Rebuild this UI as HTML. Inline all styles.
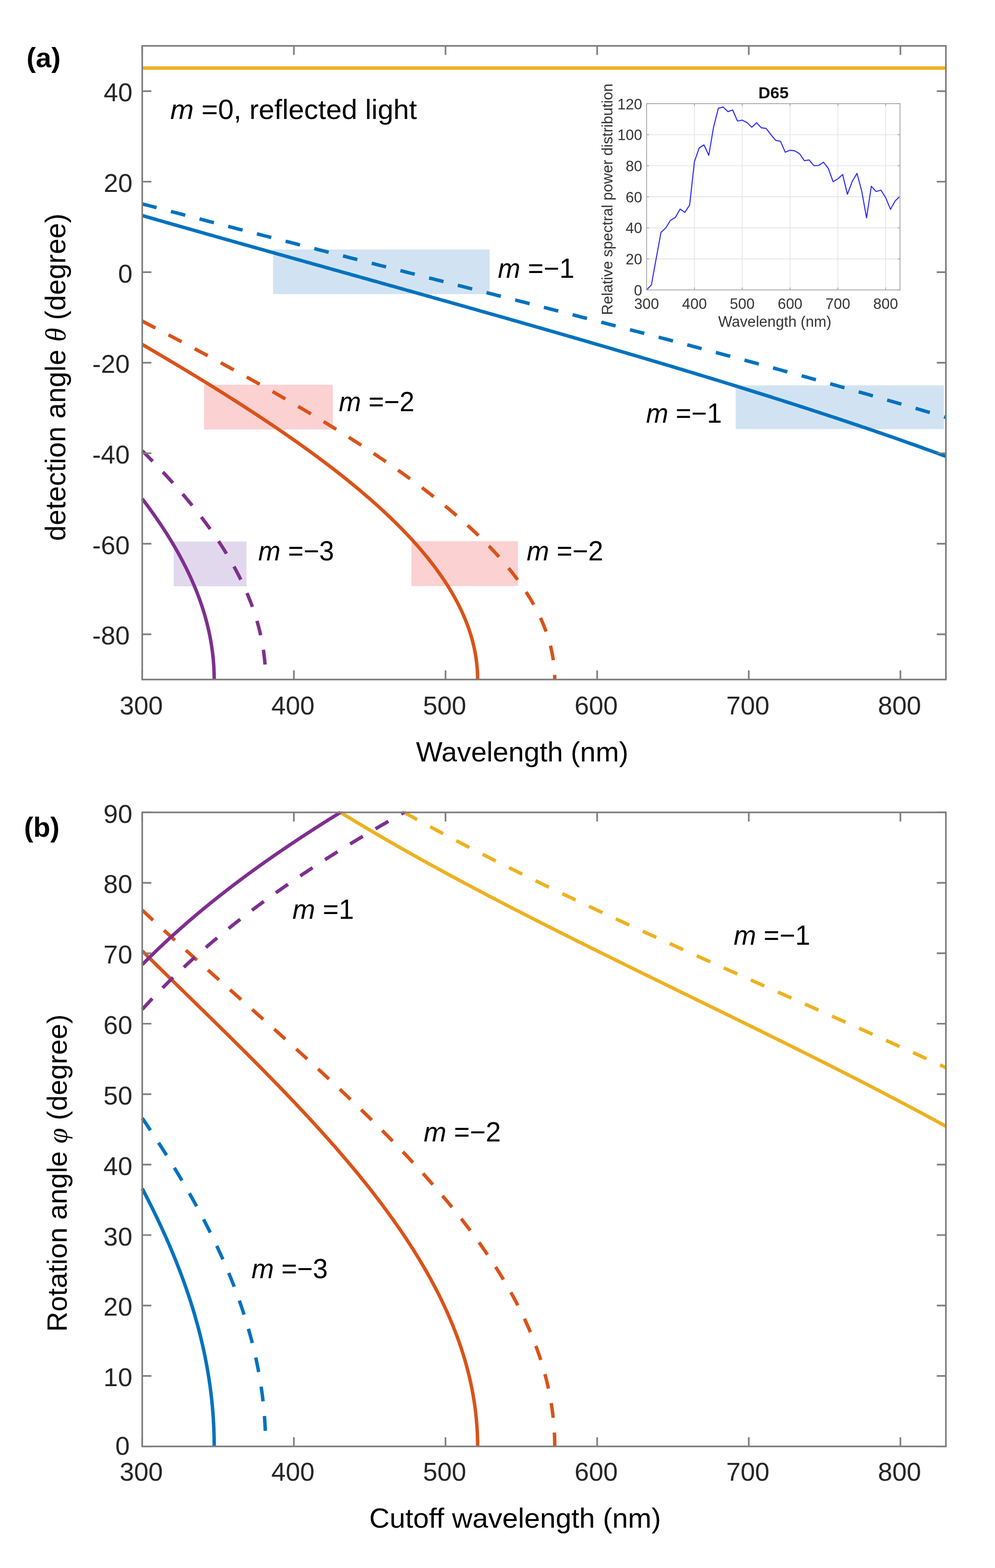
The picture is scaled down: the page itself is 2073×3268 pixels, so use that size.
<!DOCTYPE html><html><head><meta charset="utf-8"><title>Diffraction angle plots</title><style>html,body{margin:0;padding:0;background:#fff}svg{display:block}</style></head><body><svg xmlns="http://www.w3.org/2000/svg" width="2073" height="3268" viewBox="0 0 2073 3268" font-family="Liberation Sans, sans-serif"><rect width="2073" height="3268" fill="#fff"/><rect x="568.8" y="520" width="451.4" height="93" fill="#d1e3f3"/><rect x="1532.7" y="803.3" width="433.8" height="91" fill="#d1e3f3"/><rect x="425.1" y="801.8" width="268.5" height="93.4" fill="#fcd1d2"/><rect x="857.2" y="1128" width="222.0" height="93.5" fill="#fcd1d2"/><rect x="361.8" y="1128.7" width="151.8" height="93.3" fill="#e2d8ee"/><path d="M296.34 141.83H1970.72" stroke="#EDB120" stroke-width="7.2"/><path d="M296.34 449.25 L301.94 450.86 L307.54 452.47 L313.14 454.07 L318.74 455.68 L324.34 457.28 L329.94 458.89 L335.54 460.49 L341.14 462.09 L346.74 463.69 L352.34 465.29 L357.94 466.89 L363.54 468.48 L369.14 470.08 L374.74 471.67 L380.34 473.27 L385.94 474.86 L391.54 476.46 L397.14 478.05 L402.74 479.64 L408.34 481.23 L413.94 482.82 L419.54 484.41 L425.14 486 L430.74 487.59 L436.34 489.17 L441.94 490.76 L447.54 492.34 L453.14 493.93 L458.74 495.51 L464.34 497.1 L469.94 498.68 L475.54 500.26 L481.14 501.85 L486.74 503.43 L492.34 505.01 L497.94 506.59 L503.54 508.17 L509.14 509.75 L514.74 511.33 L520.34 512.91 L525.94 514.48 L531.54 516.06 L537.14 517.64 L542.74 519.21 L548.34 520.79 L553.94 522.37 L559.54 523.94 L565.14 525.52 L570.74 527.09 L576.34 528.67 L581.94 530.24 L587.54 531.81 L593.14 533.39 L598.74 534.96 L604.34 536.53 L609.94 538.11 L615.54 539.68 L621.14 541.25 L626.74 542.82 L632.34 544.39 L637.94 545.97 L643.54 547.54 L649.14 549.11 L654.74 550.68 L660.34 552.25 L665.94 553.82 L671.54 555.39 L677.14 556.96 L682.74 558.53 L688.34 560.1 L693.94 561.67 L699.54 563.24 L705.14 564.81 L710.74 566.38 L716.34 567.95 L721.94 569.52 L727.54 571.09 L733.14 572.66 L738.74 574.23 L744.33 575.8 L749.93 577.37 L755.53 578.95 L761.13 580.52 L766.73 582.09 L772.33 583.66 L777.93 585.23 L783.53 586.8 L789.13 588.37 L794.73 589.94 L800.33 591.51 L805.93 593.09 L811.53 594.66 L817.13 596.23 L822.73 597.8 L828.33 599.38 L833.93 600.95 L839.53 602.52 L845.13 604.1 L850.73 605.67 L856.33 607.24 L861.93 608.82 L867.53 610.39 L873.13 611.97 L878.73 613.54 L884.33 615.12 L889.93 616.7 L895.53 618.27 L901.13 619.85 L906.73 621.43 L912.33 623.01 L917.93 624.59 L923.53 626.17 L929.13 627.75 L934.73 629.33 L940.33 630.91 L945.93 632.49 L951.53 634.07 L957.13 635.65 L962.73 637.24 L968.33 638.82 L973.93 640.4 L979.53 641.99 L985.13 643.57 L990.73 645.16 L996.33 646.75 L1001.93 648.34 L1007.53 649.92 L1013.13 651.51 L1018.73 653.1 L1024.33 654.69 L1029.93 656.28 L1035.53 657.88 L1041.13 659.47 L1046.73 661.06 L1052.33 662.66 L1057.93 664.25 L1063.53 665.85 L1069.13 667.45 L1074.73 669.04 L1080.33 670.64 L1085.93 672.24 L1091.53 673.84 L1097.13 675.45 L1102.73 677.05 L1108.33 678.65 L1113.93 680.26 L1119.53 681.86 L1125.13 683.47 L1130.73 685.08 L1136.33 686.68 L1141.93 688.29 L1147.53 689.91 L1153.13 691.52 L1158.73 693.13 L1164.33 694.75 L1169.93 696.36 L1175.53 697.98 L1181.13 699.59 L1186.73 701.21 L1192.33 702.83 L1197.93 704.46 L1203.53 706.08 L1209.13 707.7 L1214.73 709.33 L1220.33 710.95 L1225.93 712.58 L1231.53 714.21 L1237.13 715.84 L1242.73 717.47 L1248.33 719.11 L1253.93 720.74 L1259.53 722.38 L1265.13 724.02 L1270.73 725.66 L1276.33 727.3 L1281.93 728.94 L1287.53 730.58 L1293.13 732.23 L1298.73 733.88 L1304.33 735.52 L1309.93 737.18 L1315.53 738.83 L1321.13 740.48 L1326.73 742.14 L1332.33 743.79 L1337.93 745.45 L1343.53 747.11 L1349.13 748.77 L1354.73 750.44 L1360.33 752.1 L1365.93 753.77 L1371.53 755.44 L1377.13 757.11 L1382.73 758.79 L1388.33 760.46 L1393.93 762.14 L1399.53 763.82 L1405.13 765.5 L1410.73 767.18 L1416.33 768.87 L1421.93 770.55 L1427.53 772.24 L1433.13 773.93 L1438.73 775.63 L1444.33 777.32 L1449.93 779.02 L1455.53 780.72 L1461.13 782.42 L1466.73 784.13 L1472.33 785.83 L1477.93 787.54 L1483.53 789.25 L1489.13 790.97 L1494.73 792.68 L1500.33 794.4 L1505.93 796.12 L1511.53 797.85 L1517.13 799.57 L1522.73 801.3 L1528.33 803.03 L1533.93 804.77 L1539.53 806.5 L1545.13 808.24 L1550.73 809.98 L1556.33 811.73 L1561.93 813.47 L1567.53 815.22 L1573.13 816.98 L1578.73 818.73 L1584.33 820.49 L1589.93 822.25 L1595.53 824.02 L1601.13 825.78 L1606.73 827.55 L1612.33 829.33 L1617.93 831.1 L1623.53 832.88 L1629.13 834.66 L1634.73 836.45 L1640.32 838.24 L1645.92 840.03 L1651.52 841.83 L1657.12 843.63 L1662.72 845.43 L1668.32 847.23 L1673.92 849.04 L1679.52 850.85 L1685.12 852.67 L1690.72 854.49 L1696.32 856.31 L1701.92 858.14 L1707.52 859.97 L1713.12 861.8 L1718.72 863.64 L1724.32 865.48 L1729.92 867.33 L1735.52 869.18 L1741.12 871.03 L1746.72 872.89 L1752.32 874.75 L1757.92 876.62 L1763.52 878.49 L1769.12 880.36 L1774.72 882.24 L1780.32 884.12 L1785.92 886.01 L1791.52 887.9 L1797.12 889.8 L1802.72 891.7 L1808.32 893.6 L1813.92 895.51 L1819.52 897.43 L1825.12 899.35 L1830.72 901.27 L1836.32 903.2 L1841.92 905.13 L1847.52 907.07 L1853.12 909.02 L1858.72 910.96 L1864.32 912.92 L1869.92 914.88 L1875.52 916.84 L1881.12 918.81 L1886.72 920.79 L1892.32 922.77 L1897.92 924.76 L1903.52 926.75 L1909.12 928.75 L1914.72 930.75 L1920.32 932.76 L1925.92 934.78 L1931.52 936.8 L1937.12 938.83 L1942.72 940.86 L1948.32 942.91 L1953.92 944.95 L1959.52 947.01 L1965.12 949.07 L1970.72 951.14" fill="none" stroke="#0072BD" stroke-width="7.2" stroke-linejoin="round"/><path d="M296.34 424.92 L301.94 426.41 L307.54 427.89 L313.14 429.36 L318.74 430.84 L324.34 432.32 L329.94 433.79 L335.54 435.27 L341.14 436.74 L346.74 438.22 L352.34 439.69 L357.94 441.16 L363.54 442.63 L369.14 444.1 L374.74 445.57 L380.34 447.03 L385.94 448.5 L391.54 449.97 L397.14 451.43 L402.74 452.89 L408.34 454.36 L413.94 455.82 L419.54 457.28 L425.14 458.74 L430.74 460.2 L436.34 461.66 L441.94 463.12 L447.54 464.57 L453.14 466.03 L458.74 467.48 L464.34 468.94 L469.94 470.39 L475.54 471.85 L481.14 473.3 L486.74 474.75 L492.34 476.2 L497.94 477.65 L503.54 479.11 L509.14 480.55 L514.74 482 L520.34 483.45 L525.94 484.9 L531.54 486.35 L537.14 487.79 L542.74 489.24 L548.34 490.68 L553.94 492.13 L559.54 493.57 L565.14 495.02 L570.74 496.46 L576.34 497.9 L581.94 499.34 L587.54 500.79 L593.14 502.23 L598.74 503.67 L604.34 505.11 L609.94 506.55 L615.54 507.99 L621.14 509.43 L626.74 510.87 L632.34 512.3 L637.94 513.74 L643.54 515.18 L649.14 516.62 L654.74 518.05 L660.34 519.49 L665.94 520.93 L671.54 522.36 L677.14 523.8 L682.74 525.23 L688.34 526.67 L693.94 528.1 L699.54 529.54 L705.14 530.97 L710.74 532.4 L716.34 533.84 L721.94 535.27 L727.54 536.7 L733.14 538.14 L738.74 539.57 L744.33 541 L749.93 542.43 L755.53 543.86 L761.13 545.3 L766.73 546.73 L772.33 548.16 L777.93 549.59 L783.53 551.02 L789.13 552.45 L794.73 553.88 L800.33 555.32 L805.93 556.75 L811.53 558.18 L817.13 559.61 L822.73 561.04 L828.33 562.47 L833.93 563.9 L839.53 565.33 L845.13 566.76 L850.73 568.19 L856.33 569.62 L861.93 571.05 L867.53 572.48 L873.13 573.91 L878.73 575.34 L884.33 576.78 L889.93 578.21 L895.53 579.64 L901.13 581.07 L906.73 582.5 L912.33 583.93 L917.93 585.36 L923.53 586.79 L929.13 588.22 L934.73 589.66 L940.33 591.09 L945.93 592.52 L951.53 593.95 L957.13 595.39 L962.73 596.82 L968.33 598.25 L973.93 599.68 L979.53 601.12 L985.13 602.55 L990.73 603.98 L996.33 605.42 L1001.93 606.85 L1007.53 608.29 L1013.13 609.72 L1018.73 611.16 L1024.33 612.59 L1029.93 614.03 L1035.53 615.46 L1041.13 616.9 L1046.73 618.34 L1052.33 619.77 L1057.93 621.21 L1063.53 622.65 L1069.13 624.09 L1074.73 625.53 L1080.33 626.97 L1085.93 628.41 L1091.53 629.85 L1097.13 631.29 L1102.73 632.73 L1108.33 634.17 L1113.93 635.61 L1119.53 637.05 L1125.13 638.5 L1130.73 639.94 L1136.33 641.38 L1141.93 642.83 L1147.53 644.27 L1153.13 645.72 L1158.73 647.16 L1164.33 648.61 L1169.93 650.06 L1175.53 651.51 L1181.13 652.95 L1186.73 654.4 L1192.33 655.85 L1197.93 657.3 L1203.53 658.75 L1209.13 660.21 L1214.73 661.66 L1220.33 663.11 L1225.93 664.56 L1231.53 666.02 L1237.13 667.47 L1242.73 668.93 L1248.33 670.39 L1253.93 671.84 L1259.53 673.3 L1265.13 674.76 L1270.73 676.22 L1276.33 677.68 L1281.93 679.14 L1287.53 680.61 L1293.13 682.07 L1298.73 683.53 L1304.33 685 L1309.93 686.46 L1315.53 687.93 L1321.13 689.4 L1326.73 690.86 L1332.33 692.33 L1337.93 693.8 L1343.53 695.28 L1349.13 696.75 L1354.73 698.22 L1360.33 699.69 L1365.93 701.17 L1371.53 702.65 L1377.13 704.12 L1382.73 705.6 L1388.33 707.08 L1393.93 708.56 L1399.53 710.04 L1405.13 711.52 L1410.73 713.01 L1416.33 714.49 L1421.93 715.98 L1427.53 717.47 L1433.13 718.95 L1438.73 720.44 L1444.33 721.93 L1449.93 723.43 L1455.53 724.92 L1461.13 726.41 L1466.73 727.91 L1472.33 729.41 L1477.93 730.9 L1483.53 732.4 L1489.13 733.9 L1494.73 735.41 L1500.33 736.91 L1505.93 738.41 L1511.53 739.92 L1517.13 741.43 L1522.73 742.94 L1528.33 744.45 L1533.93 745.96 L1539.53 747.47 L1545.13 748.99 L1550.73 750.5 L1556.33 752.02 L1561.93 753.54 L1567.53 755.06 L1573.13 756.58 L1578.73 758.11 L1584.33 759.63 L1589.93 761.16 L1595.53 762.69 L1601.13 764.22 L1606.73 765.75 L1612.33 767.28 L1617.93 768.82 L1623.53 770.36 L1629.13 771.89 L1634.73 773.43 L1640.32 774.98 L1645.92 776.52 L1651.52 778.07 L1657.12 779.61 L1662.72 781.16 L1668.32 782.72 L1673.92 784.27 L1679.52 785.82 L1685.12 787.38 L1690.72 788.94 L1696.32 790.5 L1701.92 792.06 L1707.52 793.63 L1713.12 795.19 L1718.72 796.76 L1724.32 798.33 L1729.92 799.91 L1735.52 801.48 L1741.12 803.06 L1746.72 804.64 L1752.32 806.22 L1757.92 807.81 L1763.52 809.39 L1769.12 810.98 L1774.72 812.57 L1780.32 814.16 L1785.92 815.76 L1791.52 817.36 L1797.12 818.96 L1802.72 820.56 L1808.32 822.16 L1813.92 823.77 L1819.52 825.38 L1825.12 826.99 L1830.72 828.61 L1836.32 830.22 L1841.92 831.84 L1847.52 833.46 L1853.12 835.09 L1858.72 836.72 L1864.32 838.35 L1869.92 839.98 L1875.52 841.62 L1881.12 843.25 L1886.72 844.89 L1892.32 846.54 L1897.92 848.19 L1903.52 849.84 L1909.12 851.49 L1914.72 853.14 L1920.32 854.8 L1925.92 856.46 L1931.52 858.13 L1937.12 859.8 L1942.72 861.47 L1948.32 863.14 L1953.92 864.82 L1959.52 866.5 L1965.12 868.18 L1970.72 869.87" fill="none" stroke="#0072BD" stroke-width="7.2" stroke-linejoin="round" stroke-dasharray="30.9 30.83"/><path d="M296.34 717.88 L297.51 718.56 L298.67 719.24 L299.84 719.92 L301.01 720.6 L302.17 721.28 L303.34 721.96 L304.51 722.64 L305.67 723.33 L306.84 724.01 L308.01 724.69 L309.17 725.37 L310.34 726.06 L311.5 726.74 L312.67 727.43 L313.84 728.11 L315 728.79 L316.17 729.48 L317.34 730.16 L318.5 730.85 L319.67 731.53 L320.84 732.22 L322 732.91 L323.17 733.59 L324.34 734.28 L325.5 734.97 L326.67 735.65 L327.84 736.34 L329 737.03 L330.17 737.72 L331.34 738.4 L332.5 739.09 L333.67 739.78 L334.84 740.47 L336 741.16 L337.17 741.85 L338.33 742.54 L339.5 743.23 L340.67 743.92 L341.83 744.61 L343 745.3 L344.17 745.99 L345.33 746.69 L346.5 747.38 L347.67 748.07 L348.83 748.76 L350 749.46 L351.17 750.15 L352.33 750.84 L353.5 751.54 L354.67 752.23 L355.83 752.93 L357 753.62 L358.17 754.32 L359.33 755.01 L360.5 755.71 L361.66 756.4 L362.83 757.1 L364 757.8 L365.16 758.49 L366.33 759.19 L367.5 759.89 L368.66 760.59 L369.83 761.29 L371 761.98 L372.16 762.68 L373.33 763.38 L374.5 764.08 L375.66 764.78 L376.83 765.48 L378 766.18 L379.16 766.89 L380.33 767.59 L381.5 768.29 L382.66 768.99 L383.83 769.69 L385 770.4 L386.16 771.1 L387.33 771.81 L388.49 772.51 L389.66 773.21 L390.83 773.92 L391.99 774.62 L393.16 775.33 L394.33 776.04 L395.49 776.74 L396.66 777.45 L397.83 778.16 L398.99 778.86 L400.16 779.57 L401.33 780.28 L402.49 780.99 L403.66 781.7 L404.83 782.41 L405.99 783.12 L407.16 783.83 L408.33 784.54 L409.49 785.25 L410.66 785.96 L411.83 786.67 L412.99 787.38 L414.16 788.1 L415.32 788.81 L416.49 789.52 L417.66 790.24 L418.82 790.95 L419.99 791.67 L421.16 792.38 L422.32 793.1 L423.49 793.81 L424.66 794.53 L425.82 795.25 L426.99 795.96 L428.16 796.68 L429.32 797.4 L430.49 798.12 L431.66 798.84 L432.82 799.55 L433.99 800.27 L435.16 801 L436.32 801.72 L437.49 802.44 L438.66 803.16 L439.82 803.88 L440.99 804.6 L442.15 805.33 L443.32 806.05 L444.49 806.77 L445.65 807.5 L446.82 808.22 L447.99 808.95 L449.15 809.67 L450.32 810.4 L451.49 811.13 L452.65 811.85 L453.82 812.58 L454.99 813.31 L456.15 814.04 L457.32 814.77 L458.49 815.5 L459.65 816.23 L460.82 816.96 L461.99 817.69 L463.15 818.42 L464.32 819.15 L465.48 819.88 L466.65 820.62 L467.82 821.35 L468.98 822.08 L470.15 822.82 L471.32 823.55 L472.48 824.29 L473.65 825.03 L474.82 825.76 L475.98 826.5 L477.15 827.24 L478.32 827.97 L479.48 828.71 L480.65 829.45 L481.82 830.19 L482.98 830.93 L484.15 831.67 L485.32 832.41 L486.48 833.16 L487.65 833.9 L488.82 834.64 L489.98 835.39 L491.15 836.13 L492.31 836.87 L493.48 837.62 L494.65 838.37 L495.81 839.11 L496.98 839.86 L498.15 840.61 L499.31 841.35 L500.48 842.1 L501.65 842.85 L502.81 843.6 L503.98 844.35 L505.15 845.1 L506.31 845.85 L507.48 846.61 L508.65 847.36 L509.81 848.11 L510.98 848.87 L512.15 849.62 L513.31 850.38 L514.48 851.13 L515.65 851.89 L516.81 852.65 L517.98 853.4 L519.14 854.16 L520.31 854.92 L521.48 855.68 L522.64 856.44 L523.81 857.2 L524.98 857.96 L526.14 858.72 L527.31 859.49 L528.48 860.25 L529.64 861.01 L530.81 861.78 L531.98 862.54 L533.14 863.31 L534.31 864.08 L535.48 864.84 L536.64 865.61 L537.81 866.38 L538.98 867.15 L540.14 867.92 L541.31 868.69 L542.48 869.46 L543.64 870.23 L544.81 871.01 L545.97 871.78 L547.14 872.55 L548.31 873.33 L549.47 874.1 L550.64 874.88 L551.81 875.66 L552.97 876.43 L554.14 877.21 L555.31 877.99 L556.47 878.77 L557.64 879.55 L558.81 880.33 L559.97 881.11 L561.14 881.9 L562.31 882.68 L563.47 883.47 L564.64 884.25 L565.81 885.04 L566.97 885.82 L568.14 886.61 L569.3 887.4 L570.47 888.19 L571.64 888.98 L572.8 889.77 L573.97 890.56 L575.14 891.35 L576.3 892.14 L577.47 892.94 L578.64 893.73 L579.8 894.53 L580.97 895.32 L582.14 896.12 L583.3 896.92 L584.47 897.71 L585.64 898.51 L586.8 899.31 L587.97 900.11 L589.14 900.92 L590.3 901.72 L591.47 902.52 L592.64 903.33 L593.8 904.13 L594.97 904.94 L596.13 905.75 L597.3 906.55 L598.47 907.36 L599.63 908.17 L600.8 908.98 L601.97 909.79 L603.13 910.61 L604.3 911.42 L605.47 912.23 L606.63 913.05 L607.8 913.86 L608.97 914.68 L610.13 915.5 L611.3 916.32 L612.47 917.14 L613.63 917.96 L614.8 918.78 L615.97 919.6 L617.13 920.42 L618.3 921.25 L619.47 922.07 L620.63 922.9 L621.8 923.73 L622.96 924.55 L624.13 925.38 L625.3 926.21 L626.46 927.05 L627.63 927.88 L628.8 928.71 L629.96 929.55 L631.13 930.38 L632.3 931.22 L633.46 932.05 L634.63 932.89 L635.8 933.73 L636.96 934.57 L638.13 935.41 L639.3 936.26 L640.46 937.1 L641.63 937.94 L642.8 938.79 L643.96 939.64 L645.13 940.49 L646.3 941.33 L647.46 942.18 L648.63 943.04 L649.79 943.89 L650.96 944.74 L652.13 945.6 L653.29 946.45 L654.46 947.31 L655.63 948.17 L656.79 949.03 L657.96 949.89 L659.13 950.75 L660.29 951.61 L661.46 952.48 L662.63 953.34 L663.79 954.21 L664.96 955.07 L666.13 955.94 L667.29 956.81 L668.46 957.68 L669.63 958.56 L670.79 959.43 L671.96 960.31 L673.12 961.18 L674.29 962.06 L675.46 962.94 L676.62 963.82 L677.79 964.7 L678.96 965.58 L680.12 966.47 L681.29 967.35 L682.46 968.24 L683.62 969.13 L684.79 970.02 L685.96 970.91 L687.12 971.8 L688.29 972.69 L689.46 973.59 L690.62 974.48 L691.79 975.38 L692.96 976.28 L694.12 977.18 L695.29 978.08 L696.46 978.99 L697.62 979.89 L698.79 980.8 L699.95 981.7 L701.12 982.61 L702.29 983.52 L703.45 984.44 L704.62 985.35 L705.79 986.26 L706.95 987.18 L708.12 988.1 L709.29 989.02 L710.45 989.94 L711.62 990.86 L712.79 991.79 L713.95 992.71 L715.12 993.64 L716.29 994.57 L717.45 995.5 L718.62 996.43 L719.79 997.37 L720.95 998.3 L722.12 999.24 L723.29 1000.18 L724.45 1001.12 L725.62 1002.06 L726.78 1003.01 L727.95 1003.95 L729.12 1004.9 L730.28 1005.85 L731.45 1006.8 L732.62 1007.75 L733.78 1008.71 L734.95 1009.66 L736.12 1010.62 L737.28 1011.58 L738.45 1012.54 L739.62 1013.51 L740.78 1014.47 L741.95 1015.44 L743.12 1016.41 L744.28 1017.38 L745.45 1018.35 L746.62 1019.33 L747.78 1020.31 L748.95 1021.29 L750.12 1022.27 L751.28 1023.25 L752.45 1024.23 L753.61 1025.22 L754.78 1026.21 L755.95 1027.2 L757.11 1028.19 L758.28 1029.19 L759.45 1030.19 L760.61 1031.19 L761.78 1032.19 L762.95 1033.19 L764.11 1034.2 L765.28 1035.21 L766.45 1036.22 L767.61 1037.23 L768.78 1038.25 L769.95 1039.26 L771.11 1040.28 L772.28 1041.3 L773.45 1042.33 L774.61 1043.35 L775.78 1044.38 L776.94 1045.42 L778.11 1046.45 L779.28 1047.48 L780.44 1048.52 L781.61 1049.56 L782.78 1050.61 L783.94 1051.65 L785.11 1052.7 L786.28 1053.75 L787.44 1054.81 L788.61 1055.86 L789.78 1056.92 L790.94 1057.98 L792.11 1059.05 L793.28 1060.12 L794.44 1061.19 L795.61 1062.26 L796.78 1063.33 L797.94 1064.41 L799.11 1065.49 L800.28 1066.58 L801.44 1067.66 L802.61 1068.75 L803.77 1069.84 L804.94 1070.94 L806.11 1072.04 L807.27 1073.14 L808.44 1074.24 L809.61 1075.35 L810.77 1076.46 L811.94 1077.58 L813.11 1078.69 L814.27 1079.81 L815.44 1080.94 L816.61 1082.06 L817.77 1083.19 L818.94 1084.33 L820.11 1085.46 L821.27 1086.6 L822.44 1087.75 L823.61 1088.9 L824.77 1090.05 L825.94 1091.2 L827.11 1092.36 L828.27 1093.52 L829.44 1094.69 L830.6 1095.85 L831.77 1097.03 L832.94 1098.2 L834.1 1099.38 L835.27 1100.57 L836.44 1101.76 L837.6 1102.95 L838.77 1104.14 L839.94 1105.34 L841.1 1106.55 L842.27 1107.76 L843.44 1108.97 L844.6 1110.19 L845.77 1111.41 L846.94 1112.63 L848.1 1113.86 L849.27 1115.1 L850.44 1116.34 L851.6 1117.58 L852.77 1118.83 L853.94 1120.08 L855.1 1121.34 L856.27 1122.61 L857.43 1123.87 L858.6 1125.15 L859.77 1126.42 L860.93 1127.71 L862.1 1128.99 L863.27 1130.29 L864.43 1131.59 L865.6 1132.89 L866.77 1134.2 L867.93 1135.51 L869.1 1136.83 L870.27 1138.16 L871.43 1139.49 L872.6 1140.83 L873.77 1142.17 L874.93 1143.52 L876.1 1144.88 L877.27 1146.24 L878.43 1147.61 L879.6 1148.99 L880.76 1150.37 L881.93 1151.76 L883.1 1153.15 L884.26 1154.55 L885.43 1155.96 L886.6 1157.38 L887.76 1158.8 L888.93 1160.23 L890.1 1161.67 L891.26 1163.11 L892.43 1164.57 L893.6 1166.03 L894.76 1167.49 L895.93 1168.97 L897.1 1170.46 L898.26 1171.95 L899.43 1173.45 L900.6 1174.96 L901.76 1176.48 L902.93 1178.01 L904.1 1179.55 L905.26 1181.09 L906.43 1182.65 L907.59 1184.22 L908.76 1185.79 L909.93 1187.38 L911.09 1188.98 L912.26 1190.59 L913.43 1192.2 L914.59 1193.83 L915.76 1195.47 L916.93 1197.13 L918.09 1198.79 L919.26 1200.47 L920.43 1202.16 L921.59 1203.86 L922.76 1205.57 L923.93 1207.3 L925.09 1209.04 L926.26 1210.8 L927.43 1212.57 L928.59 1214.35 L929.76 1216.15 L930.93 1217.97 L932.09 1219.8 L933.26 1221.65 L934.42 1223.51 L935.59 1225.39 L936.76 1227.29 L937.92 1229.21 L939.09 1231.15 L940.26 1233.11 L941.42 1235.09 L942.59 1237.09 L943.76 1239.11 L944.92 1241.15 L946.09 1243.22 L947.26 1245.31 L948.42 1247.42 L949.59 1249.56 L950.76 1251.73 L951.92 1253.93 L953.09 1256.15 L954.26 1258.41 L955.42 1260.7 L956.59 1263.02 L957.76 1265.37 L958.92 1267.77 L960.09 1270.2 L961.25 1272.67 L962.42 1275.18 L963.59 1277.74 L964.75 1280.34 L965.92 1282.99 L967.09 1285.7 L968.25 1288.46 L969.42 1291.28 L970.59 1294.17 L971.75 1297.13 L972.92 1300.16 L974.09 1303.26 L975.25 1306.46 L976.42 1309.75 L977.59 1313.14 L978.75 1316.65 L979.92 1320.29 L981.09 1324.06 L982.25 1328 L983.42 1332.11 L984.59 1336.44 L985.75 1341.02 L986.92 1345.89 L988.08 1351.11 L989.25 1356.8 L990.42 1363.09 L991.58 1370.22 L992.75 1378.68 L993.92 1389.7 L994 1390.61 L994.07 1391.53 L994.15 1392.45 L994.22 1393.36 L994.28 1394.28 L994.35 1395.2 L994.41 1396.12 L994.47 1397.03 L994.53 1397.95 L994.58 1398.87 L994.63 1399.78 L994.68 1400.7 L994.73 1401.62 L994.77 1402.54 L994.81 1403.45 L994.85 1404.37 L994.88 1405.29 L994.92 1406.2 L994.94 1407.12 L994.97 1408.04 L994.99 1408.95 L995.02 1409.87 L995.03 1410.79 L995.05 1411.71 L995.06 1412.62 L995.07 1413.54 L995.08 1414.46 L995.08 1415.37 L995.08 1416.29" fill="none" stroke="#D95319" stroke-width="7.2" stroke-linejoin="round"/><path d="M296.34 669.29 L297.77 670.03 L299.21 670.78 L300.64 671.53 L302.08 672.27 L303.51 673.02 L304.95 673.77 L306.38 674.52 L307.82 675.26 L309.25 676.01 L310.69 676.76 L312.12 677.51 L313.56 678.26 L314.99 679.01 L316.43 679.76 L317.86 680.5 L319.3 681.25 L320.73 682 L322.17 682.75 L323.6 683.5 L325.03 684.25 L326.47 685.01 L327.9 685.76 L329.34 686.51 L330.77 687.26 L332.21 688.01 L333.64 688.76 L335.08 689.51 L336.51 690.27 L337.95 691.02 L339.38 691.77 L340.82 692.53 L342.25 693.28 L343.69 694.03 L345.12 694.79 L346.56 695.54 L347.99 696.29 L349.43 697.05 L350.86 697.8 L352.29 698.56 L353.73 699.31 L355.16 700.07 L356.6 700.83 L358.03 701.58 L359.47 702.34 L360.9 703.09 L362.34 703.85 L363.77 704.61 L365.21 705.37 L366.64 706.12 L368.08 706.88 L369.51 707.64 L370.95 708.4 L372.38 709.16 L373.82 709.92 L375.25 710.68 L376.69 711.44 L378.12 712.2 L379.55 712.96 L380.99 713.72 L382.42 714.48 L383.86 715.24 L385.29 716 L386.73 716.76 L388.16 717.53 L389.6 718.29 L391.03 719.05 L392.47 719.81 L393.9 720.58 L395.34 721.34 L396.77 722.1 L398.21 722.87 L399.64 723.63 L401.08 724.4 L402.51 725.16 L403.95 725.93 L405.38 726.7 L406.81 727.46 L408.25 728.23 L409.68 729 L411.12 729.76 L412.55 730.53 L413.99 731.3 L415.42 732.07 L416.86 732.84 L418.29 733.6 L419.73 734.37 L421.16 735.14 L422.6 735.91 L424.03 736.68 L425.47 737.45 L426.9 738.23 L428.34 739 L429.77 739.77 L431.21 740.54 L432.64 741.31 L434.07 742.09 L435.51 742.86 L436.94 743.63 L438.38 744.41 L439.81 745.18 L441.25 745.96 L442.68 746.73 L444.12 747.51 L445.55 748.28 L446.99 749.06 L448.42 749.84 L449.86 750.61 L451.29 751.39 L452.73 752.17 L454.16 752.95 L455.6 753.73 L457.03 754.51 L458.47 755.29 L459.9 756.07 L461.33 756.85 L462.77 757.63 L464.2 758.41 L465.64 759.19 L467.07 759.97 L468.51 760.75 L469.94 761.54 L471.38 762.32 L472.81 763.1 L474.25 763.89 L475.68 764.67 L477.12 765.46 L478.55 766.24 L479.99 767.03 L481.42 767.81 L482.86 768.6 L484.29 769.39 L485.73 770.18 L487.16 770.96 L488.6 771.75 L490.03 772.54 L491.46 773.33 L492.9 774.12 L494.33 774.91 L495.77 775.7 L497.2 776.49 L498.64 777.29 L500.07 778.08 L501.51 778.87 L502.94 779.66 L504.38 780.46 L505.81 781.25 L507.25 782.05 L508.68 782.84 L510.12 783.64 L511.55 784.43 L512.99 785.23 L514.42 786.03 L515.86 786.83 L517.29 787.62 L518.72 788.42 L520.16 789.22 L521.59 790.02 L523.03 790.82 L524.46 791.62 L525.9 792.42 L527.33 793.23 L528.77 794.03 L530.2 794.83 L531.64 795.64 L533.07 796.44 L534.51 797.24 L535.94 798.05 L537.38 798.85 L538.81 799.66 L540.25 800.47 L541.68 801.27 L543.12 802.08 L544.55 802.89 L545.98 803.7 L547.42 804.51 L548.85 805.32 L550.29 806.13 L551.72 806.94 L553.16 807.75 L554.59 808.57 L556.03 809.38 L557.46 810.19 L558.9 811.01 L560.33 811.82 L561.77 812.64 L563.2 813.45 L564.64 814.27 L566.07 815.09 L567.51 815.9 L568.94 816.72 L570.38 817.54 L571.81 818.36 L573.24 819.18 L574.68 820 L576.11 820.82 L577.55 821.65 L578.98 822.47 L580.42 823.29 L581.85 824.12 L583.29 824.94 L584.72 825.77 L586.16 826.59 L587.59 827.42 L589.03 828.25 L590.46 829.07 L591.9 829.9 L593.33 830.73 L594.77 831.56 L596.2 832.39 L597.64 833.22 L599.07 834.06 L600.5 834.89 L601.94 835.72 L603.37 836.56 L604.81 837.39 L606.24 838.23 L607.68 839.06 L609.11 839.9 L610.55 840.74 L611.98 841.58 L613.42 842.42 L614.85 843.26 L616.29 844.1 L617.72 844.94 L619.16 845.78 L620.59 846.62 L622.03 847.47 L623.46 848.31 L624.9 849.15 L626.33 850 L627.76 850.85 L629.2 851.69 L630.63 852.54 L632.07 853.39 L633.5 854.24 L634.94 855.09 L636.37 855.94 L637.81 856.79 L639.24 857.65 L640.68 858.5 L642.11 859.36 L643.55 860.21 L644.98 861.07 L646.42 861.92 L647.85 862.78 L649.29 863.64 L650.72 864.5 L652.16 865.36 L653.59 866.22 L655.02 867.08 L656.46 867.95 L657.89 868.81 L659.33 869.67 L660.76 870.54 L662.2 871.41 L663.63 872.27 L665.07 873.14 L666.5 874.01 L667.94 874.88 L669.37 875.75 L670.81 876.62 L672.24 877.49 L673.68 878.37 L675.11 879.24 L676.55 880.12 L677.98 880.99 L679.42 881.87 L680.85 882.75 L682.28 883.63 L683.72 884.51 L685.15 885.39 L686.59 886.27 L688.02 887.15 L689.46 888.04 L690.89 888.92 L692.33 889.81 L693.76 890.69 L695.2 891.58 L696.63 892.47 L698.07 893.36 L699.5 894.25 L700.94 895.14 L702.37 896.03 L703.81 896.93 L705.24 897.82 L706.68 898.72 L708.11 899.62 L709.54 900.51 L710.98 901.41 L712.41 902.31 L713.85 903.21 L715.28 904.12 L716.72 905.02 L718.15 905.92 L719.59 906.83 L721.02 907.74 L722.46 908.64 L723.89 909.55 L725.33 910.46 L726.76 911.37 L728.2 912.29 L729.63 913.2 L731.07 914.11 L732.5 915.03 L733.94 915.95 L735.37 916.86 L736.8 917.78 L738.24 918.7 L739.67 919.62 L741.11 920.55 L742.54 921.47 L743.98 922.4 L745.41 923.32 L746.85 924.25 L748.28 925.18 L749.72 926.11 L751.15 927.04 L752.59 927.97 L754.02 928.91 L755.46 929.84 L756.89 930.78 L758.33 931.72 L759.76 932.66 L761.2 933.6 L762.63 934.54 L764.06 935.48 L765.5 936.43 L766.93 937.37 L768.37 938.32 L769.8 939.27 L771.24 940.22 L772.67 941.17 L774.11 942.12 L775.54 943.07 L776.98 944.03 L778.41 944.99 L779.85 945.94 L781.28 946.9 L782.72 947.86 L784.15 948.83 L785.59 949.79 L787.02 950.76 L788.46 951.72 L789.89 952.69 L791.32 953.66 L792.76 954.63 L794.19 955.61 L795.63 956.58 L797.06 957.56 L798.5 958.53 L799.93 959.51 L801.37 960.49 L802.8 961.48 L804.24 962.46 L805.67 963.45 L807.11 964.43 L808.54 965.42 L809.98 966.41 L811.41 967.4 L812.85 968.4 L814.28 969.39 L815.72 970.39 L817.15 971.39 L818.59 972.39 L820.02 973.39 L821.45 974.4 L822.89 975.4 L824.32 976.41 L825.76 977.42 L827.19 978.43 L828.63 979.44 L830.06 980.46 L831.5 981.47 L832.93 982.49 L834.37 983.51 L835.8 984.54 L837.24 985.56 L838.67 986.58 L840.11 987.61 L841.54 988.64 L842.98 989.67 L844.41 990.71 L845.85 991.74 L847.28 992.78 L848.71 993.82 L850.15 994.86 L851.58 995.91 L853.02 996.95 L854.45 998 L855.89 999.05 L857.32 1000.1 L858.76 1001.16 L860.19 1002.21 L861.63 1003.27 L863.06 1004.33 L864.5 1005.39 L865.93 1006.46 L867.37 1007.53 L868.8 1008.59 L870.24 1009.67 L871.67 1010.74 L873.11 1011.82 L874.54 1012.89 L875.97 1013.98 L877.41 1015.06 L878.84 1016.14 L880.28 1017.23 L881.71 1018.32 L883.15 1019.42 L884.58 1020.51 L886.02 1021.61 L887.45 1022.71 L888.89 1023.81 L890.32 1024.92 L891.76 1026.02 L893.19 1027.13 L894.63 1028.25 L896.06 1029.36 L897.5 1030.48 L898.93 1031.6 L900.37 1032.73 L901.8 1033.85 L903.23 1034.98 L904.67 1036.11 L906.1 1037.25 L907.54 1038.39 L908.97 1039.53 L910.41 1040.67 L911.84 1041.82 L913.28 1042.97 L914.71 1044.12 L916.15 1045.27 L917.58 1046.43 L919.02 1047.59 L920.45 1048.76 L921.89 1049.92 L923.32 1051.09 L924.76 1052.27 L926.19 1053.44 L927.63 1054.62 L929.06 1055.81 L930.49 1056.99 L931.93 1058.18 L933.36 1059.38 L934.8 1060.57 L936.23 1061.78 L937.67 1062.98 L939.1 1064.19 L940.54 1065.4 L941.97 1066.61 L943.41 1067.83 L944.84 1069.05 L946.28 1070.28 L947.71 1071.5 L949.15 1072.74 L950.58 1073.97 L952.02 1075.22 L953.45 1076.46 L954.89 1077.71 L956.32 1078.96 L957.75 1080.22 L959.19 1081.48 L960.62 1082.74 L962.06 1084.01 L963.49 1085.28 L964.93 1086.56 L966.36 1087.84 L967.8 1089.13 L969.23 1090.42 L970.67 1091.71 L972.1 1093.01 L973.54 1094.32 L974.97 1095.63 L976.41 1096.94 L977.84 1098.26 L979.28 1099.58 L980.71 1100.91 L982.15 1102.24 L983.58 1103.58 L985.01 1104.92 L986.45 1106.27 L987.88 1107.63 L989.32 1108.98 L990.75 1110.35 L992.19 1111.72 L993.62 1113.09 L995.06 1114.47 L996.49 1115.86 L997.93 1117.25 L999.36 1118.65 L1000.8 1120.05 L1002.23 1121.46 L1003.67 1122.88 L1005.1 1124.3 L1006.54 1125.73 L1007.97 1127.17 L1009.41 1128.61 L1010.84 1130.05 L1012.27 1131.51 L1013.71 1132.97 L1015.14 1134.44 L1016.58 1135.91 L1018.01 1137.4 L1019.45 1138.88 L1020.88 1140.38 L1022.32 1141.89 L1023.75 1143.4 L1025.19 1144.92 L1026.62 1146.44 L1028.06 1147.98 L1029.49 1149.52 L1030.93 1151.07 L1032.36 1152.63 L1033.8 1154.2 L1035.23 1155.78 L1036.67 1157.36 L1038.1 1158.96 L1039.53 1160.56 L1040.97 1162.18 L1042.4 1163.8 L1043.84 1165.43 L1045.27 1167.07 L1046.71 1168.73 L1048.14 1170.39 L1049.58 1172.06 L1051.01 1173.75 L1052.45 1175.44 L1053.88 1177.15 L1055.32 1178.87 L1056.75 1180.6 L1058.19 1182.34 L1059.62 1184.09 L1061.06 1185.86 L1062.49 1187.64 L1063.93 1189.43 L1065.36 1191.24 L1066.79 1193.06 L1068.23 1194.89 L1069.66 1196.74 L1071.1 1198.6 L1072.53 1200.48 L1073.97 1202.37 L1075.4 1204.28 L1076.84 1206.21 L1078.27 1208.15 L1079.71 1210.11 L1081.14 1212.09 L1082.58 1214.08 L1084.01 1216.1 L1085.45 1218.13 L1086.88 1220.19 L1088.32 1222.27 L1089.75 1224.36 L1091.19 1226.48 L1092.62 1228.62 L1094.05 1230.79 L1095.49 1232.98 L1096.92 1235.2 L1098.36 1237.44 L1099.79 1239.71 L1101.23 1242.01 L1102.66 1244.34 L1104.1 1246.7 L1105.53 1249.09 L1106.97 1251.51 L1108.4 1253.97 L1109.84 1256.47 L1111.27 1259 L1112.71 1261.58 L1114.14 1264.2 L1115.58 1266.86 L1117.01 1269.57 L1118.45 1272.33 L1119.88 1275.14 L1121.31 1278.01 L1122.75 1280.94 L1124.18 1283.93 L1125.62 1286.98 L1127.05 1290.11 L1128.49 1293.32 L1129.92 1296.62 L1131.36 1300 L1132.79 1303.49 L1134.23 1307.08 L1135.66 1310.8 L1137.1 1314.65 L1138.53 1318.64 L1139.97 1322.81 L1141.4 1327.17 L1142.84 1331.76 L1144.27 1336.6 L1145.71 1341.75 L1147.14 1347.29 L1148.58 1353.31 L1150.01 1359.97 L1151.44 1367.52 L1152.88 1376.47 L1154.31 1388.14 L1154.41 1389.11 L1154.51 1390.08 L1154.6 1391.05 L1154.68 1392.02 L1154.77 1392.99 L1154.85 1393.96 L1154.92 1394.93 L1155 1395.9 L1155.07 1396.88 L1155.13 1397.85 L1155.2 1398.82 L1155.26 1399.79 L1155.31 1400.76 L1155.36 1401.73 L1155.41 1402.7 L1155.46 1403.67 L1155.5 1404.64 L1155.54 1405.61 L1155.58 1406.58 L1155.61 1407.55 L1155.64 1408.53 L1155.67 1409.5 L1155.69 1410.47 L1155.71 1411.44 L1155.72 1412.41 L1155.73 1413.38 L1155.74 1414.35 L1155.75 1415.32 L1155.75 1416.29" fill="none" stroke="#D95319" stroke-width="7.2" stroke-linejoin="round" stroke-dasharray="30.9 30.83"/><path d="M296.34 1039.5 L296.59 1039.83 L296.84 1040.16 L297.09 1040.49 L297.34 1040.82 L297.59 1041.15 L297.84 1041.48 L298.09 1041.8 L298.34 1042.13 L298.59 1042.46 L298.84 1042.79 L299.09 1043.12 L299.34 1043.46 L299.59 1043.79 L299.84 1044.12 L300.09 1044.45 L300.34 1044.78 L300.59 1045.11 L300.84 1045.44 L301.1 1045.78 L301.35 1046.11 L301.6 1046.44 L301.85 1046.78 L302.1 1047.11 L302.35 1047.44 L302.6 1047.78 L302.85 1048.11 L303.1 1048.45 L303.35 1048.78 L303.6 1049.12 L303.85 1049.45 L304.1 1049.79 L304.35 1050.12 L304.6 1050.46 L304.85 1050.79 L305.1 1051.13 L305.35 1051.47 L305.6 1051.8 L305.85 1052.14 L306.1 1052.48 L306.35 1052.82 L306.6 1053.15 L306.85 1053.49 L307.1 1053.83 L307.35 1054.17 L307.6 1054.51 L307.85 1054.85 L308.1 1055.19 L308.35 1055.53 L308.6 1055.87 L308.85 1056.21 L309.1 1056.55 L309.35 1056.89 L309.6 1057.23 L309.85 1057.57 L310.1 1057.92 L310.35 1058.26 L310.61 1058.6 L310.86 1058.94 L311.11 1059.29 L311.36 1059.63 L311.61 1059.97 L311.86 1060.32 L312.11 1060.66 L312.36 1061.01 L312.61 1061.35 L312.86 1061.7 L313.11 1062.04 L313.36 1062.39 L313.61 1062.73 L313.86 1063.08 L314.11 1063.42 L314.36 1063.77 L314.61 1064.12 L314.86 1064.47 L315.11 1064.81 L315.36 1065.16 L315.61 1065.51 L315.86 1065.86 L316.11 1066.21 L316.36 1066.56 L316.61 1066.9 L316.86 1067.25 L317.11 1067.6 L317.36 1067.95 L317.61 1068.31 L317.86 1068.66 L318.11 1069.01 L318.36 1069.36 L318.61 1069.71 L318.86 1070.06 L319.11 1070.41 L319.36 1070.77 L319.61 1071.12 L319.86 1071.47 L320.12 1071.83 L320.37 1072.18 L320.62 1072.54 L320.87 1072.89 L321.12 1073.25 L321.37 1073.6 L321.62 1073.96 L321.87 1074.31 L322.12 1074.67 L322.37 1075.02 L322.62 1075.38 L322.87 1075.74 L323.12 1076.1 L323.37 1076.45 L323.62 1076.81 L323.87 1077.17 L324.12 1077.53 L324.37 1077.89 L324.62 1078.25 L324.87 1078.61 L325.12 1078.97 L325.37 1079.33 L325.62 1079.69 L325.87 1080.05 L326.12 1080.41 L326.37 1080.77 L326.62 1081.13 L326.87 1081.5 L327.12 1081.86 L327.37 1082.22 L327.62 1082.59 L327.87 1082.95 L328.12 1083.31 L328.37 1083.68 L328.62 1084.04 L328.87 1084.41 L329.12 1084.77 L329.37 1085.14 L329.63 1085.51 L329.88 1085.87 L330.13 1086.24 L330.38 1086.61 L330.63 1086.98 L330.88 1087.34 L331.13 1087.71 L331.38 1088.08 L331.63 1088.45 L331.88 1088.82 L332.13 1089.19 L332.38 1089.56 L332.63 1089.93 L332.88 1090.3 L333.13 1090.67 L333.38 1091.04 L333.63 1091.42 L333.88 1091.79 L334.13 1092.16 L334.38 1092.53 L334.63 1092.91 L334.88 1093.28 L335.13 1093.66 L335.38 1094.03 L335.63 1094.41 L335.88 1094.78 L336.13 1095.16 L336.38 1095.53 L336.63 1095.91 L336.88 1096.29 L337.13 1096.66 L337.38 1097.04 L337.63 1097.42 L337.88 1097.8 L338.13 1098.18 L338.38 1098.56 L338.63 1098.94 L338.88 1099.32 L339.14 1099.7 L339.39 1100.08 L339.64 1100.46 L339.89 1100.84 L340.14 1101.22 L340.39 1101.61 L340.64 1101.99 L340.89 1102.37 L341.14 1102.76 L341.39 1103.14 L341.64 1103.53 L341.89 1103.91 L342.14 1104.3 L342.39 1104.68 L342.64 1105.07 L342.89 1105.46 L343.14 1105.84 L343.39 1106.23 L343.64 1106.62 L343.89 1107.01 L344.14 1107.4 L344.39 1107.79 L344.64 1108.18 L344.89 1108.57 L345.14 1108.96 L345.39 1109.35 L345.64 1109.74 L345.89 1110.13 L346.14 1110.52 L346.39 1110.92 L346.64 1111.31 L346.89 1111.7 L347.14 1112.1 L347.39 1112.49 L347.64 1112.89 L347.89 1113.28 L348.14 1113.68 L348.39 1114.08 L348.65 1114.47 L348.9 1114.87 L349.15 1115.27 L349.4 1115.67 L349.65 1116.07 L349.9 1116.47 L350.15 1116.87 L350.4 1117.27 L350.65 1117.67 L350.9 1118.07 L351.15 1118.47 L351.4 1118.87 L351.65 1119.28 L351.9 1119.68 L352.15 1120.08 L352.4 1120.49 L352.65 1120.89 L352.9 1121.3 L353.15 1121.7 L353.4 1122.11 L353.65 1122.52 L353.9 1122.92 L354.15 1123.33 L354.4 1123.74 L354.65 1124.15 L354.9 1124.56 L355.15 1124.97 L355.4 1125.38 L355.65 1125.79 L355.9 1126.2 L356.15 1126.61 L356.4 1127.03 L356.65 1127.44 L356.9 1127.85 L357.15 1128.27 L357.4 1128.68 L357.65 1129.1 L357.9 1129.51 L358.16 1129.93 L358.41 1130.35 L358.66 1130.76 L358.91 1131.18 L359.16 1131.6 L359.41 1132.02 L359.66 1132.44 L359.91 1132.86 L360.16 1133.28 L360.41 1133.7 L360.66 1134.12 L360.91 1134.54 L361.16 1134.97 L361.41 1135.39 L361.66 1135.82 L361.91 1136.24 L362.16 1136.67 L362.41 1137.09 L362.66 1137.52 L362.91 1137.95 L363.16 1138.37 L363.41 1138.8 L363.66 1139.23 L363.91 1139.66 L364.16 1140.09 L364.41 1140.52 L364.66 1140.95 L364.91 1141.38 L365.16 1141.82 L365.41 1142.25 L365.66 1142.68 L365.91 1143.12 L366.16 1143.55 L366.41 1143.99 L366.66 1144.43 L366.91 1144.86 L367.16 1145.3 L367.41 1145.74 L367.67 1146.18 L367.92 1146.62 L368.17 1147.06 L368.42 1147.5 L368.67 1147.94 L368.92 1148.38 L369.17 1148.82 L369.42 1149.27 L369.67 1149.71 L369.92 1150.16 L370.17 1150.6 L370.42 1151.05 L370.67 1151.5 L370.92 1151.94 L371.17 1152.39 L371.42 1152.84 L371.67 1153.29 L371.92 1153.74 L372.17 1154.19 L372.42 1154.65 L372.67 1155.1 L372.92 1155.55 L373.17 1156.01 L373.42 1156.46 L373.67 1156.92 L373.92 1157.37 L374.17 1157.83 L374.42 1158.29 L374.67 1158.75 L374.92 1159.21 L375.17 1159.67 L375.42 1160.13 L375.67 1160.59 L375.92 1161.05 L376.17 1161.51 L376.42 1161.98 L376.67 1162.44 L376.92 1162.91 L377.18 1163.37 L377.43 1163.84 L377.68 1164.31 L377.93 1164.78 L378.18 1165.25 L378.43 1165.72 L378.68 1166.19 L378.93 1166.66 L379.18 1167.13 L379.43 1167.61 L379.68 1168.08 L379.93 1168.56 L380.18 1169.03 L380.43 1169.51 L380.68 1169.99 L380.93 1170.47 L381.18 1170.95 L381.43 1171.43 L381.68 1171.91 L381.93 1172.39 L382.18 1172.87 L382.43 1173.36 L382.68 1173.84 L382.93 1174.33 L383.18 1174.82 L383.43 1175.3 L383.68 1175.79 L383.93 1176.28 L384.18 1176.77 L384.43 1177.26 L384.68 1177.76 L384.93 1178.25 L385.18 1178.74 L385.43 1179.24 L385.68 1179.74 L385.93 1180.23 L386.18 1180.73 L386.44 1181.23 L386.69 1181.73 L386.94 1182.23 L387.19 1182.73 L387.44 1183.24 L387.69 1183.74 L387.94 1184.25 L388.19 1184.75 L388.44 1185.26 L388.69 1185.77 L388.94 1186.28 L389.19 1186.79 L389.44 1187.3 L389.69 1187.81 L389.94 1188.33 L390.19 1188.84 L390.44 1189.36 L390.69 1189.87 L390.94 1190.39 L391.19 1190.91 L391.44 1191.43 L391.69 1191.95 L391.94 1192.48 L392.19 1193 L392.44 1193.52 L392.69 1194.05 L392.94 1194.58 L393.19 1195.11 L393.44 1195.64 L393.69 1196.17 L393.94 1196.7 L394.19 1197.23 L394.44 1197.77 L394.69 1198.3 L394.94 1198.84 L395.19 1199.38 L395.44 1199.92 L395.69 1200.46 L395.95 1201 L396.2 1201.54 L396.45 1202.09 L396.7 1202.63 L396.95 1203.18 L397.2 1203.73 L397.45 1204.28 L397.7 1204.83 L397.95 1205.38 L398.2 1205.94 L398.45 1206.49 L398.7 1207.05 L398.95 1207.61 L399.2 1208.17 L399.45 1208.73 L399.7 1209.29 L399.95 1209.86 L400.2 1210.42 L400.45 1210.99 L400.7 1211.56 L400.95 1212.13 L401.2 1212.7 L401.45 1213.27 L401.7 1213.85 L401.95 1214.42 L402.2 1215 L402.45 1215.58 L402.7 1216.16 L402.95 1216.74 L403.2 1217.33 L403.45 1217.91 L403.7 1218.5 L403.95 1219.09 L404.2 1219.68 L404.45 1220.27 L404.7 1220.87 L404.95 1221.46 L405.2 1222.06 L405.46 1222.66 L405.71 1223.26 L405.96 1223.87 L406.21 1224.47 L406.46 1225.08 L406.71 1225.69 L406.96 1226.3 L407.21 1226.91 L407.46 1227.52 L407.71 1228.14 L407.96 1228.76 L408.21 1229.38 L408.46 1230 L408.71 1230.62 L408.96 1231.25 L409.21 1231.88 L409.46 1232.51 L409.71 1233.14 L409.96 1233.77 L410.21 1234.41 L410.46 1235.05 L410.71 1235.69 L410.96 1236.33 L411.21 1236.98 L411.46 1237.63 L411.71 1238.28 L411.96 1238.93 L412.21 1239.58 L412.46 1240.24 L412.71 1240.9 L412.96 1241.56 L413.21 1242.22 L413.46 1242.89 L413.71 1243.56 L413.96 1244.23 L414.21 1244.9 L414.46 1245.58 L414.71 1246.26 L414.97 1246.94 L415.22 1247.63 L415.47 1248.31 L415.72 1249 L415.97 1249.69 L416.22 1250.39 L416.47 1251.09 L416.72 1251.79 L416.97 1252.49 L417.22 1253.2 L417.47 1253.91 L417.72 1254.62 L417.97 1255.34 L418.22 1256.06 L418.47 1256.78 L418.72 1257.51 L418.97 1258.23 L419.22 1258.97 L419.47 1259.7 L419.72 1260.44 L419.97 1261.18 L420.22 1261.93 L420.47 1262.68 L420.72 1263.43 L420.97 1264.18 L421.22 1264.94 L421.47 1265.71 L421.72 1266.48 L421.97 1267.25 L422.22 1268.02 L422.47 1268.8 L422.72 1269.58 L422.97 1270.37 L423.22 1271.16 L423.47 1271.96 L423.72 1272.76 L423.97 1273.56 L424.22 1274.37 L424.48 1275.18 L424.73 1276 L424.98 1276.83 L425.23 1277.65 L425.48 1278.48 L425.73 1279.32 L425.98 1280.16 L426.23 1281.01 L426.48 1281.86 L426.73 1282.72 L426.98 1283.59 L427.23 1284.45 L427.48 1285.33 L427.73 1286.21 L427.98 1287.1 L428.23 1287.99 L428.48 1288.89 L428.73 1289.79 L428.98 1290.7 L429.23 1291.62 L429.48 1292.54 L429.73 1293.47 L429.98 1294.41 L430.23 1295.36 L430.48 1296.31 L430.73 1297.27 L430.98 1298.24 L431.23 1299.21 L431.48 1300.2 L431.73 1301.19 L431.98 1302.19 L432.23 1303.2 L432.48 1304.22 L432.73 1305.24 L432.98 1306.28 L433.23 1307.33 L433.48 1308.38 L433.73 1309.45 L433.99 1310.53 L434.24 1311.61 L434.49 1312.71 L434.74 1313.82 L434.99 1314.95 L435.24 1316.08 L435.49 1317.23 L435.74 1318.39 L435.99 1319.57 L436.24 1320.76 L436.49 1321.96 L436.74 1323.18 L436.99 1324.42 L437.24 1325.67 L437.49 1326.94 L437.74 1328.23 L437.99 1329.54 L438.24 1330.87 L438.49 1332.22 L438.74 1333.59 L438.99 1334.98 L439.24 1336.39 L439.49 1337.84 L439.74 1339.31 L439.99 1340.8 L440.24 1342.33 L440.49 1343.89 L440.74 1345.48 L440.99 1347.11 L441.24 1348.78 L441.49 1350.5 L441.74 1352.25 L441.99 1354.06 L442.24 1355.92 L442.49 1357.84 L442.74 1359.82 L442.99 1361.88 L443.24 1364.01 L443.5 1366.24 L443.75 1368.57 L444 1371.02 L444.25 1373.61 L444.5 1376.37 L444.75 1379.33 L445 1382.55 L445.25 1386.12 L445.5 1390.16 L445.75 1394.96 L446 1401.21 L446.01 1401.73 L446.03 1402.25 L446.05 1402.77 L446.06 1403.29 L446.08 1403.81 L446.09 1404.33 L446.1 1404.85 L446.12 1405.37 L446.13 1405.89 L446.14 1406.41 L446.15 1406.93 L446.16 1407.45 L446.17 1407.97 L446.18 1408.49 L446.19 1409.01 L446.2 1409.53 L446.21 1410.05 L446.21 1410.57 L446.22 1411.09 L446.22 1411.61 L446.23 1412.13 L446.23 1412.65 L446.24 1413.17 L446.24 1413.69 L446.24 1414.21 L446.25 1414.73 L446.25 1415.25 L446.25 1415.77 L446.25 1416.29" fill="none" stroke="#7E2F8E" stroke-width="7.2" stroke-linejoin="round"/><path d="M296.34 939.54 L296.77 939.97 L297.2 940.39 L297.63 940.82 L298.06 941.25 L298.49 941.68 L298.91 942.1 L299.34 942.53 L299.77 942.96 L300.2 943.39 L300.63 943.82 L301.06 944.24 L301.49 944.67 L301.92 945.1 L302.35 945.53 L302.78 945.96 L303.21 946.39 L303.63 946.82 L304.06 947.25 L304.49 947.69 L304.92 948.12 L305.35 948.55 L305.78 948.98 L306.21 949.41 L306.64 949.85 L307.07 950.28 L307.5 950.71 L307.93 951.15 L308.35 951.58 L308.78 952.01 L309.21 952.45 L309.64 952.88 L310.07 953.32 L310.5 953.75 L310.93 954.19 L311.36 954.63 L311.79 955.06 L312.22 955.5 L312.64 955.94 L313.07 956.37 L313.5 956.81 L313.93 957.25 L314.36 957.69 L314.79 958.12 L315.22 958.56 L315.65 959 L316.08 959.44 L316.51 959.88 L316.94 960.32 L317.36 960.76 L317.79 961.2 L318.22 961.64 L318.65 962.08 L319.08 962.53 L319.51 962.97 L319.94 963.41 L320.37 963.85 L320.8 964.3 L321.23 964.74 L321.66 965.18 L322.08 965.63 L322.51 966.07 L322.94 966.52 L323.37 966.96 L323.8 967.41 L324.23 967.85 L324.66 968.3 L325.09 968.74 L325.52 969.19 L325.95 969.64 L326.38 970.08 L326.8 970.53 L327.23 970.98 L327.66 971.43 L328.09 971.88 L328.52 972.33 L328.95 972.78 L329.38 973.22 L329.81 973.67 L330.24 974.13 L330.67 974.58 L331.1 975.03 L331.52 975.48 L331.95 975.93 L332.38 976.38 L332.81 976.84 L333.24 977.29 L333.67 977.74 L334.1 978.19 L334.53 978.65 L334.96 979.1 L335.39 979.56 L335.82 980.01 L336.24 980.47 L336.67 980.92 L337.1 981.38 L337.53 981.84 L337.96 982.29 L338.39 982.75 L338.82 983.21 L339.25 983.67 L339.68 984.13 L340.11 984.58 L340.54 985.04 L340.96 985.5 L341.39 985.96 L341.82 986.42 L342.25 986.88 L342.68 987.34 L343.11 987.81 L343.54 988.27 L343.97 988.73 L344.4 989.19 L344.83 989.66 L345.25 990.12 L345.68 990.58 L346.11 991.05 L346.54 991.51 L346.97 991.98 L347.4 992.44 L347.83 992.91 L348.26 993.37 L348.69 993.84 L349.12 994.31 L349.55 994.78 L349.97 995.24 L350.4 995.71 L350.83 996.18 L351.26 996.65 L351.69 997.12 L352.12 997.59 L352.55 998.06 L352.98 998.53 L353.41 999 L353.84 999.47 L354.27 999.94 L354.69 1000.42 L355.12 1000.89 L355.55 1001.36 L355.98 1001.84 L356.41 1002.31 L356.84 1002.79 L357.27 1003.26 L357.7 1003.74 L358.13 1004.21 L358.56 1004.69 L358.99 1005.17 L359.41 1005.64 L359.84 1006.12 L360.27 1006.6 L360.7 1007.08 L361.13 1007.56 L361.56 1008.04 L361.99 1008.52 L362.42 1009 L362.85 1009.48 L363.28 1009.96 L363.71 1010.44 L364.13 1010.92 L364.56 1011.4 L364.99 1011.89 L365.42 1012.37 L365.85 1012.86 L366.28 1013.34 L366.71 1013.82 L367.14 1014.31 L367.57 1014.8 L368 1015.28 L368.43 1015.77 L368.85 1016.26 L369.28 1016.74 L369.71 1017.23 L370.14 1017.72 L370.57 1018.21 L371 1018.7 L371.43 1019.19 L371.86 1019.68 L372.29 1020.17 L372.72 1020.67 L373.15 1021.16 L373.57 1021.65 L374 1022.14 L374.43 1022.64 L374.86 1023.13 L375.29 1023.63 L375.72 1024.12 L376.15 1024.62 L376.58 1025.11 L377.01 1025.61 L377.44 1026.11 L377.86 1026.61 L378.29 1027.1 L378.72 1027.6 L379.15 1028.1 L379.58 1028.6 L380.01 1029.1 L380.44 1029.6 L380.87 1030.11 L381.3 1030.61 L381.73 1031.11 L382.16 1031.61 L382.58 1032.12 L383.01 1032.62 L383.44 1033.13 L383.87 1033.63 L384.3 1034.14 L384.73 1034.64 L385.16 1035.15 L385.59 1035.66 L386.02 1036.17 L386.45 1036.68 L386.88 1037.19 L387.3 1037.7 L387.73 1038.21 L388.16 1038.72 L388.59 1039.23 L389.02 1039.74 L389.45 1040.25 L389.88 1040.77 L390.31 1041.28 L390.74 1041.8 L391.17 1042.31 L391.6 1042.83 L392.02 1043.34 L392.45 1043.86 L392.88 1044.38 L393.31 1044.9 L393.74 1045.41 L394.17 1045.93 L394.6 1046.45 L395.03 1046.97 L395.46 1047.49 L395.89 1048.02 L396.32 1048.54 L396.74 1049.06 L397.17 1049.59 L397.6 1050.11 L398.03 1050.64 L398.46 1051.16 L398.89 1051.69 L399.32 1052.21 L399.75 1052.74 L400.18 1053.27 L400.61 1053.8 L401.04 1054.33 L401.46 1054.86 L401.89 1055.39 L402.32 1055.92 L402.75 1056.45 L403.18 1056.98 L403.61 1057.52 L404.04 1058.05 L404.47 1058.59 L404.9 1059.12 L405.33 1059.66 L405.76 1060.2 L406.18 1060.73 L406.61 1061.27 L407.04 1061.81 L407.47 1062.35 L407.9 1062.89 L408.33 1063.43 L408.76 1063.97 L409.19 1064.51 L409.62 1065.06 L410.05 1065.6 L410.47 1066.15 L410.9 1066.69 L411.33 1067.24 L411.76 1067.78 L412.19 1068.33 L412.62 1068.88 L413.05 1069.43 L413.48 1069.98 L413.91 1070.53 L414.34 1071.08 L414.77 1071.63 L415.19 1072.19 L415.62 1072.74 L416.05 1073.29 L416.48 1073.85 L416.91 1074.4 L417.34 1074.96 L417.77 1075.52 L418.2 1076.08 L418.63 1076.64 L419.06 1077.19 L419.49 1077.76 L419.91 1078.32 L420.34 1078.88 L420.77 1079.44 L421.2 1080.01 L421.63 1080.57 L422.06 1081.14 L422.49 1081.7 L422.92 1082.27 L423.35 1082.84 L423.78 1083.41 L424.21 1083.98 L424.63 1084.55 L425.06 1085.12 L425.49 1085.69 L425.92 1086.26 L426.35 1086.84 L426.78 1087.41 L427.21 1087.99 L427.64 1088.56 L428.07 1089.14 L428.5 1089.72 L428.93 1090.3 L429.35 1090.88 L429.78 1091.46 L430.21 1092.04 L430.64 1092.63 L431.07 1093.21 L431.5 1093.79 L431.93 1094.38 L432.36 1094.97 L432.79 1095.55 L433.22 1096.14 L433.65 1096.73 L434.07 1097.32 L434.5 1097.91 L434.93 1098.51 L435.36 1099.1 L435.79 1099.69 L436.22 1100.29 L436.65 1100.89 L437.08 1101.48 L437.51 1102.08 L437.94 1102.68 L438.37 1103.28 L438.79 1103.88 L439.22 1104.49 L439.65 1105.09 L440.08 1105.69 L440.51 1106.3 L440.94 1106.91 L441.37 1107.51 L441.8 1108.12 L442.23 1108.73 L442.66 1109.34 L443.08 1109.95 L443.51 1110.57 L443.94 1111.18 L444.37 1111.8 L444.8 1112.41 L445.23 1113.03 L445.66 1113.65 L446.09 1114.27 L446.52 1114.89 L446.95 1115.51 L447.38 1116.13 L447.8 1116.76 L448.23 1117.38 L448.66 1118.01 L449.09 1118.64 L449.52 1119.27 L449.95 1119.9 L450.38 1120.53 L450.81 1121.16 L451.24 1121.8 L451.67 1122.43 L452.1 1123.07 L452.52 1123.7 L452.95 1124.34 L453.38 1124.98 L453.81 1125.62 L454.24 1126.27 L454.67 1126.91 L455.1 1127.56 L455.53 1128.2 L455.96 1128.85 L456.39 1129.5 L456.82 1130.15 L457.24 1130.8 L457.67 1131.46 L458.1 1132.11 L458.53 1132.77 L458.96 1133.42 L459.39 1134.08 L459.82 1134.74 L460.25 1135.4 L460.68 1136.07 L461.11 1136.73 L461.54 1137.4 L461.96 1138.06 L462.39 1138.73 L462.82 1139.4 L463.25 1140.07 L463.68 1140.75 L464.11 1141.42 L464.54 1142.1 L464.97 1142.78 L465.4 1143.45 L465.83 1144.14 L466.26 1144.82 L466.68 1145.5 L467.11 1146.19 L467.54 1146.87 L467.97 1147.56 L468.4 1148.25 L468.83 1148.94 L469.26 1149.64 L469.69 1150.33 L470.12 1151.03 L470.55 1151.73 L470.98 1152.43 L471.4 1153.13 L471.83 1153.84 L472.26 1154.54 L472.69 1155.25 L473.12 1155.96 L473.55 1156.67 L473.98 1157.38 L474.41 1158.09 L474.84 1158.81 L475.27 1159.53 L475.69 1160.25 L476.12 1160.97 L476.55 1161.69 L476.98 1162.42 L477.41 1163.15 L477.84 1163.88 L478.27 1164.61 L478.7 1165.34 L479.13 1166.08 L479.56 1166.81 L479.99 1167.55 L480.41 1168.29 L480.84 1169.04 L481.27 1169.78 L481.7 1170.53 L482.13 1171.28 L482.56 1172.03 L482.99 1172.79 L483.42 1173.54 L483.85 1174.3 L484.28 1175.06 L484.71 1175.83 L485.13 1176.59 L485.56 1177.36 L485.99 1178.13 L486.42 1178.9 L486.85 1179.68 L487.28 1180.45 L487.71 1181.23 L488.14 1182.01 L488.57 1182.8 L489 1183.58 L489.43 1184.37 L489.85 1185.16 L490.28 1185.96 L490.71 1186.76 L491.14 1187.56 L491.57 1188.36 L492 1189.16 L492.43 1189.97 L492.86 1190.78 L493.29 1191.59 L493.72 1192.41 L494.15 1193.23 L494.57 1194.05 L495 1194.87 L495.43 1195.7 L495.86 1196.53 L496.29 1197.36 L496.72 1198.2 L497.15 1199.04 L497.58 1199.88 L498.01 1200.72 L498.44 1201.57 L498.87 1202.42 L499.29 1203.28 L499.72 1204.14 L500.15 1205 L500.58 1205.86 L501.01 1206.73 L501.44 1207.6 L501.87 1208.48 L502.3 1209.36 L502.73 1210.24 L503.16 1211.12 L503.59 1212.01 L504.01 1212.91 L504.44 1213.8 L504.87 1214.7 L505.3 1215.61 L505.73 1216.52 L506.16 1217.43 L506.59 1218.34 L507.02 1219.27 L507.45 1220.19 L507.88 1221.12 L508.3 1222.05 L508.73 1222.99 L509.16 1223.93 L509.59 1224.88 L510.02 1225.83 L510.45 1226.78 L510.88 1227.74 L511.31 1228.71 L511.74 1229.67 L512.17 1230.65 L512.6 1231.63 L513.02 1232.61 L513.45 1233.6 L513.88 1234.6 L514.31 1235.59 L514.74 1236.6 L515.17 1237.61 L515.6 1238.63 L516.03 1239.65 L516.46 1240.67 L516.89 1241.71 L517.32 1242.75 L517.74 1243.79 L518.17 1244.84 L518.6 1245.9 L519.03 1246.96 L519.46 1248.03 L519.89 1249.11 L520.32 1250.19 L520.75 1251.29 L521.18 1252.38 L521.61 1253.49 L522.04 1254.6 L522.46 1255.72 L522.89 1256.85 L523.32 1257.98 L523.75 1259.12 L524.18 1260.28 L524.61 1261.44 L525.04 1262.6 L525.47 1263.78 L525.9 1264.97 L526.33 1266.16 L526.76 1267.36 L527.18 1268.58 L527.61 1269.8 L528.04 1271.03 L528.47 1272.28 L528.9 1273.53 L529.33 1274.8 L529.76 1276.07 L530.19 1277.36 L530.62 1278.66 L531.05 1279.97 L531.48 1281.3 L531.9 1282.63 L532.33 1283.98 L532.76 1285.35 L533.19 1286.72 L533.62 1288.12 L534.05 1289.52 L534.48 1290.95 L534.91 1292.39 L535.34 1293.84 L535.77 1295.31 L536.2 1296.8 L536.62 1298.31 L537.05 1299.84 L537.48 1301.39 L537.91 1302.96 L538.34 1304.55 L538.77 1306.16 L539.2 1307.8 L539.63 1309.46 L540.06 1311.15 L540.49 1312.87 L540.91 1314.61 L541.34 1316.38 L541.77 1318.19 L542.2 1320.03 L542.63 1321.9 L543.06 1323.81 L543.49 1325.76 L543.92 1327.76 L544.35 1329.8 L544.78 1331.89 L545.21 1334.03 L545.63 1336.23 L546.06 1338.49 L546.49 1340.81 L546.92 1343.21 L547.35 1345.7 L547.78 1348.27 L548.21 1350.94 L548.64 1353.72 L549.07 1356.64 L549.5 1359.7 L549.93 1362.94 L550.35 1366.39 L550.78 1370.09 L551.21 1374.12 L551.64 1378.58 L552.07 1383.63 L552.5 1389.63 L552.93 1397.44 L552.96 1398.09 L552.99 1398.74 L553.01 1399.39 L553.04 1400.04 L553.06 1400.69 L553.09 1401.34 L553.11 1401.99 L553.13 1402.64 L553.15 1403.29 L553.17 1403.94 L553.19 1404.59 L553.21 1405.24 L553.23 1405.89 L553.24 1406.54 L553.26 1407.19 L553.27 1407.84 L553.28 1408.49 L553.3 1409.14 L553.31 1409.79 L553.32 1410.44 L553.33 1411.09 L553.33 1411.74 L553.34 1412.39 L553.35 1413.04 L553.35 1413.69 L553.35 1414.34 L553.36 1414.99 L553.36 1415.64 L553.36 1416.29" fill="none" stroke="#7E2F8E" stroke-width="7.2" stroke-linejoin="round" stroke-dasharray="30.9 30.83"/><rect x="296.34" y="95.61" width="1674.38" height="1320.68" fill="none" stroke="#7e7e7e" stroke-width="3.4"/><path d="M296.34 1416.29V1397.29M296.34 95.61V114.61M612.26 1416.29V1397.29M612.26 95.61V114.61M928.18 1416.29V1397.29M928.18 95.61V114.61M1244.1 1416.29V1397.29M1244.1 95.61V114.61M1560.02 1416.29V1397.29M1560.02 95.61V114.61M1875.94 1416.29V1397.29M1875.94 95.61V114.61M296.34 1321.96H315.34M1970.72 1321.96H1951.72M296.34 1133.29H315.34M1970.72 1133.29H1951.72M296.34 944.62H315.34M1970.72 944.62H1951.72M296.34 755.95H315.34M1970.72 755.95H1951.72M296.34 567.28H315.34M1970.72 567.28H1951.72M296.34 378.61H315.34M1970.72 378.61H1951.72M296.34 189.94H315.34M1970.72 189.94H1951.72" stroke="#7e7e7e" stroke-width="3.4" fill="none"/><text x="270.3" y="1343.46" font-size="54" text-anchor="end" fill="#262626">-80</text><text x="270.3" y="1154.79" font-size="54" text-anchor="end" fill="#262626">-60</text><text x="270.3" y="966.12" font-size="54" text-anchor="end" fill="#262626">-40</text><text x="270.3" y="777.45" font-size="54" text-anchor="end" fill="#262626">-20</text><text x="276" y="588.78" font-size="54" text-anchor="end" fill="#262626">0</text><text x="276" y="400.11" font-size="54" text-anchor="end" fill="#262626">20</text><text x="276" y="211.44" font-size="54" text-anchor="end" fill="#262626">40</text><text x="294.34" y="1488.6" font-size="54" text-anchor="middle" fill="#262626">300</text><text x="610.26" y="1488.6" font-size="54" text-anchor="middle" fill="#262626">400</text><text x="926.18" y="1488.6" font-size="54" text-anchor="middle" fill="#262626">500</text><text x="1242.1" y="1488.6" font-size="54" text-anchor="middle" fill="#262626">600</text><text x="1558.02" y="1488.6" font-size="54" text-anchor="middle" fill="#262626">700</text><text x="1873.94" y="1488.6" font-size="54" text-anchor="middle" fill="#262626">800</text><rect x="1347.2" y="216" width="527.9" height="388.3" fill="#fff"/><path d="M1446.8 216V604.3M1546.41 216V604.3M1646.01 216V604.3M1745.62 216V604.3M1845.22 216V604.3M1347.2 539.58H1875.1M1347.2 474.87H1875.1M1347.2 410.15H1875.1M1347.2 345.43H1875.1M1347.2 280.72H1875.1" stroke="#e4e4e4" stroke-width="1.6" fill="none"/><path d="M1347.2 604.19 L1357.16 593.64 L1367.12 538.82 L1377.08 484.4 L1387.04 475.03 L1397 458.97 L1406.96 453.39 L1416.92 435.75 L1426.88 442.59 L1436.84 427.47 L1446.8 336.52 L1456.76 308.27 L1466.72 301.97 L1476.68 323.81 L1486.65 264.97 L1496.61 225.68 L1506.57 223.08 L1516.53 232.63 L1526.49 229.19 L1536.45 252.21 L1546.41 250.45 L1556.37 255.47 L1566.33 265.22 L1576.29 255.84 L1586.25 266.46 L1596.21 267.62 L1606.17 280.72 L1616.13 292.58 L1626.09 294.35 L1636.05 317.33 L1646.01 313.05 L1655.97 314.37 L1665.93 320.52 L1675.89 334.79 L1685.85 333.46 L1695.81 345.35 L1705.77 344.74 L1715.73 338.06 L1725.69 350.99 L1735.65 378.69 L1745.62 372.58 L1755.58 363.72 L1765.54 404.96 L1775.5 378.16 L1785.46 361.33 L1795.42 398.52 L1805.38 454.1 L1815.34 388.13 L1825.3 399.2 L1835.26 396.22 L1845.22 411.92 L1855.18 436.17 L1865.14 418.43 L1875.1 409.14" fill="none" stroke="#2b2bff" stroke-width="2.2" stroke-linejoin="round"/><rect x="1347.2" y="216" width="527.9" height="388.3" fill="none" stroke="#a8a8a8" stroke-width="1.8"/><path d="M1347.2 604.3V599.3M1347.2 216V221M1446.8 604.3V599.3M1446.8 216V221M1546.41 604.3V599.3M1546.41 216V221M1646.01 604.3V599.3M1646.01 216V221M1745.62 604.3V599.3M1745.62 216V221M1845.22 604.3V599.3M1845.22 216V221M1347.2 604.3H1352.2M1875.1 604.3H1870.1M1347.2 539.58H1352.2M1875.1 539.58H1870.1M1347.2 474.87H1352.2M1875.1 474.87H1870.1M1347.2 410.15H1352.2M1875.1 410.15H1870.1M1347.2 345.43H1352.2M1875.1 345.43H1870.1M1347.2 280.72H1352.2M1875.1 280.72H1870.1M1347.2 216H1352.2M1875.1 216H1870.1" stroke="#a8a8a8" stroke-width="1.8" fill="none"/><text x="1337.9" y="615.9" font-size="31" text-anchor="end" fill="#333">0</text><text x="1337.9" y="551.18" font-size="31" text-anchor="end" fill="#333">20</text><text x="1337.9" y="486.47" font-size="31" text-anchor="end" fill="#333">40</text><text x="1337.9" y="421.75" font-size="31" text-anchor="end" fill="#333">60</text><text x="1337.9" y="357.03" font-size="31" text-anchor="end" fill="#333">80</text><text x="1337.9" y="292.32" font-size="31" text-anchor="end" fill="#333">100</text><text x="1337.9" y="227.6" font-size="31" text-anchor="end" fill="#333">120</text><text x="1347.2" y="643.5" font-size="31" text-anchor="middle" fill="#333">300</text><text x="1446.8" y="643.5" font-size="31" text-anchor="middle" fill="#333">400</text><text x="1546.41" y="643.5" font-size="31" text-anchor="middle" fill="#333">500</text><text x="1646.01" y="643.5" font-size="31" text-anchor="middle" fill="#333">600</text><text x="1745.62" y="643.5" font-size="31" text-anchor="middle" fill="#333">700</text><text x="1845.22" y="643.5" font-size="31" text-anchor="middle" fill="#333">800</text><text transform="translate(1579.98 204.5) scale(1.0119 1)" font-size="34" fill="#111" xml:space="preserve"><tspan font-family="Liberation Sans, sans-serif" font-weight="bold">D65</tspan></text><text transform="translate(1496.2 681) scale(1.0047 1)" font-size="31" fill="#333" xml:space="preserve"><tspan font-family="Liberation Sans, sans-serif">Wavelength (nm)</tspan></text><text transform="translate(1275.8 656.41) rotate(-90) scale(1.0036 1)" font-size="31" fill="#333" xml:space="preserve"><tspan font-family="Liberation Sans, sans-serif">Relative spectral power distribution</tspan></text><text transform="translate(55.18 139.9) scale(1.0062 1)" font-size="58" fill="#000" xml:space="preserve"><tspan font-family="Liberation Sans, sans-serif" font-weight="bold">(a)</tspan></text><text transform="translate(354.67 247.5) scale(1.0299 1)" font-size="57" fill="#000" xml:space="preserve"><tspan font-family="Liberation Sans, sans-serif" font-style="italic">m</tspan><tspan font-family="Liberation Sans, sans-serif"> =0, reflected light</tspan></text><text transform="translate(1037.31 579.2) scale(0.9867 1)" font-size="57" fill="#000" xml:space="preserve"><tspan font-family="Liberation Sans, sans-serif" font-style="italic">m</tspan><tspan font-family="Liberation Sans, sans-serif"> =−1</tspan></text><text transform="translate(706.03 856.6) scale(0.9741 1)" font-size="57" fill="#000" xml:space="preserve"><tspan font-family="Liberation Sans, sans-serif" font-style="italic">m</tspan><tspan font-family="Liberation Sans, sans-serif"> =−2</tspan></text><text transform="translate(1345.92 881.2) scale(0.9778 1)" font-size="57" fill="#000" xml:space="preserve"><tspan font-family="Liberation Sans, sans-serif" font-style="italic">m</tspan><tspan font-family="Liberation Sans, sans-serif"> =−1</tspan></text><text transform="translate(538.02 1168.1) scale(0.9778 1)" font-size="57" fill="#000" xml:space="preserve"><tspan font-family="Liberation Sans, sans-serif" font-style="italic">m</tspan><tspan font-family="Liberation Sans, sans-serif"> =−3</tspan></text><text transform="translate(1097.31 1168.1) scale(0.9867 1)" font-size="57" fill="#000" xml:space="preserve"><tspan font-family="Liberation Sans, sans-serif" font-style="italic">m</tspan><tspan font-family="Liberation Sans, sans-serif"> =−2</tspan></text><text transform="translate(866.8 1587) scale(1.0243 1)" font-size="57" fill="#000" xml:space="preserve"><tspan font-family="Liberation Sans, sans-serif">Wavelength (nm)</tspan></text><text transform="translate(136.3 1127.49) rotate(-90) scale(0.9968 1)" font-size="59" fill="#000" xml:space="preserve"><tspan font-family="Liberation Sans, sans-serif">detection angle </tspan><tspan font-family="Liberation Serif, serif" font-style="italic">θ</tspan><tspan font-family="Liberation Sans, sans-serif"> (degree)</tspan></text><path d="M296.34 1981.8 L298.08 1983.52 L299.82 1985.25 L301.56 1986.97 L303.3 1988.69 L305.05 1990.42 L306.79 1992.14 L308.53 1993.87 L310.28 1995.59 L312.03 1997.32 L313.77 1999.04 L315.52 2000.76 L317.27 2002.49 L319.02 2004.21 L320.77 2005.94 L322.52 2007.66 L324.27 2009.39 L326.02 2011.11 L327.77 2012.83 L329.53 2014.56 L331.28 2016.28 L333.03 2018.01 L334.79 2019.73 L336.54 2021.45 L338.3 2023.18 L340.05 2024.9 L341.81 2026.63 L343.57 2028.35 L345.33 2030.08 L347.08 2031.8 L348.84 2033.52 L350.6 2035.25 L352.36 2036.97 L354.12 2038.7 L355.88 2040.42 L357.64 2042.15 L359.4 2043.87 L361.16 2045.59 L362.92 2047.32 L364.69 2049.04 L366.45 2050.77 L368.21 2052.49 L369.97 2054.21 L371.74 2055.94 L373.5 2057.66 L375.26 2059.39 L377.02 2061.11 L378.79 2062.84 L380.55 2064.56 L382.31 2066.28 L384.08 2068.01 L385.84 2069.73 L387.61 2071.46 L389.37 2073.18 L391.13 2074.91 L392.9 2076.63 L394.66 2078.35 L396.43 2080.08 L398.19 2081.8 L399.95 2083.53 L401.72 2085.25 L403.48 2086.97 L405.24 2088.7 L407.01 2090.42 L408.77 2092.15 L410.53 2093.87 L412.3 2095.6 L414.06 2097.32 L415.82 2099.04 L417.59 2100.77 L419.35 2102.49 L421.11 2104.22 L422.87 2105.94 L424.63 2107.67 L426.39 2109.39 L428.15 2111.11 L429.92 2112.84 L431.68 2114.56 L433.44 2116.29 L435.19 2118.01 L436.95 2119.73 L438.71 2121.46 L440.47 2123.18 L442.23 2124.91 L443.99 2126.63 L445.74 2128.36 L447.5 2130.08 L449.26 2131.8 L451.01 2133.53 L452.77 2135.25 L454.52 2136.98 L456.27 2138.7 L458.03 2140.43 L459.78 2142.15 L461.53 2143.87 L463.28 2145.6 L465.03 2147.32 L466.78 2149.05 L468.53 2150.77 L470.28 2152.49 L472.03 2154.22 L473.78 2155.94 L475.52 2157.67 L477.27 2159.39 L479.01 2161.12 L480.76 2162.84 L482.5 2164.56 L484.24 2166.29 L485.98 2168.01 L487.73 2169.74 L489.47 2171.46 L491.2 2173.19 L492.94 2174.91 L494.68 2176.63 L496.42 2178.36 L498.15 2180.08 L499.89 2181.81 L501.62 2183.53 L503.35 2185.25 L505.08 2186.98 L506.81 2188.7 L508.54 2190.43 L510.27 2192.15 L512 2193.88 L513.72 2195.6 L515.45 2197.32 L517.17 2199.05 L518.9 2200.77 L520.62 2202.5 L522.34 2204.22 L524.06 2205.95 L525.78 2207.67 L527.49 2209.39 L529.21 2211.12 L530.92 2212.84 L532.63 2214.57 L534.35 2216.29 L536.06 2218.01 L537.77 2219.74 L539.47 2221.46 L541.18 2223.19 L542.89 2224.91 L544.59 2226.64 L546.29 2228.36 L547.99 2230.08 L549.69 2231.81 L551.39 2233.53 L553.09 2235.26 L554.78 2236.98 L556.48 2238.71 L558.17 2240.43 L559.86 2242.15 L561.55 2243.88 L563.24 2245.6 L564.92 2247.33 L566.61 2249.05 L568.29 2250.77 L569.97 2252.5 L571.65 2254.22 L573.33 2255.95 L575.01 2257.67 L576.68 2259.4 L578.36 2261.12 L580.03 2262.84 L581.7 2264.57 L583.37 2266.29 L585.03 2268.02 L586.7 2269.74 L588.36 2271.47 L590.02 2273.19 L591.68 2274.91 L593.34 2276.64 L595 2278.36 L596.65 2280.09 L598.3 2281.81 L599.95 2283.53 L601.6 2285.26 L603.25 2286.98 L604.89 2288.71 L606.53 2290.43 L608.18 2292.16 L609.81 2293.88 L611.45 2295.6 L613.09 2297.33 L614.72 2299.05 L616.35 2300.78 L617.98 2302.5 L619.61 2304.23 L621.23 2305.95 L622.86 2307.67 L624.48 2309.4 L626.1 2311.12 L627.71 2312.85 L629.33 2314.57 L630.94 2316.29 L632.55 2318.02 L634.16 2319.74 L635.76 2321.47 L637.37 2323.19 L638.97 2324.92 L640.57 2326.64 L642.17 2328.36 L643.76 2330.09 L645.35 2331.81 L646.95 2333.54 L648.53 2335.26 L650.12 2336.99 L651.7 2338.71 L653.29 2340.43 L654.86 2342.16 L656.44 2343.88 L658.02 2345.61 L659.59 2347.33 L661.16 2349.05 L662.73 2350.78 L664.29 2352.5 L665.85 2354.23 L667.41 2355.95 L668.97 2357.68 L670.53 2359.4 L672.08 2361.12 L673.63 2362.85 L675.18 2364.57 L676.72 2366.3 L678.27 2368.02 L679.81 2369.75 L681.34 2371.47 L682.88 2373.19 L684.41 2374.92 L685.94 2376.64 L687.47 2378.37 L688.99 2380.09 L690.52 2381.81 L692.04 2383.54 L693.55 2385.26 L695.07 2386.99 L696.58 2388.71 L698.09 2390.44 L699.59 2392.16 L701.1 2393.88 L702.6 2395.61 L704.1 2397.33 L705.59 2399.06 L707.09 2400.78 L708.58 2402.51 L710.06 2404.23 L711.55 2405.95 L713.03 2407.68 L714.51 2409.4 L715.98 2411.13 L717.46 2412.85 L718.93 2414.57 L720.39 2416.3 L721.86 2418.02 L723.32 2419.75 L724.78 2421.47 L726.23 2423.2 L727.69 2424.92 L729.14 2426.64 L730.58 2428.37 L732.03 2430.09 L733.47 2431.82 L734.91 2433.54 L736.34 2435.27 L737.78 2436.99 L739.21 2438.71 L740.63 2440.44 L742.05 2442.16 L743.47 2443.89 L744.89 2445.61 L746.31 2447.33 L747.72 2449.06 L749.12 2450.78 L750.53 2452.51 L751.93 2454.23 L753.33 2455.96 L754.72 2457.68 L756.12 2459.4 L757.51 2461.13 L758.89 2462.85 L760.27 2464.58 L761.65 2466.3 L763.03 2468.03 L764.4 2469.75 L765.77 2471.47 L767.14 2473.2 L768.5 2474.92 L769.86 2476.65 L771.22 2478.37 L772.58 2480.09 L773.93 2481.82 L775.27 2483.54 L776.62 2485.27 L777.96 2486.99 L779.29 2488.72 L780.63 2490.44 L781.96 2492.16 L783.29 2493.89 L784.61 2495.61 L785.93 2497.34 L787.25 2499.06 L788.56 2500.79 L789.87 2502.51 L791.18 2504.23 L792.48 2505.96 L793.78 2507.68 L795.08 2509.41 L796.37 2511.13 L797.66 2512.85 L798.95 2514.58 L800.23 2516.3 L801.51 2518.03 L802.78 2519.75 L804.06 2521.48 L805.33 2523.2 L806.59 2524.92 L807.85 2526.65 L809.11 2528.37 L810.36 2530.1 L811.62 2531.82 L812.86 2533.55 L814.11 2535.27 L815.35 2536.99 L816.58 2538.72 L817.82 2540.44 L819.04 2542.17 L820.27 2543.89 L821.49 2545.61 L822.71 2547.34 L823.93 2549.06 L825.14 2550.79 L826.34 2552.51 L827.55 2554.24 L828.75 2555.96 L829.94 2557.68 L831.14 2559.41 L832.32 2561.13 L833.51 2562.86 L834.69 2564.58 L835.87 2566.31 L837.04 2568.03 L838.21 2569.75 L839.38 2571.48 L840.54 2573.2 L841.7 2574.93 L842.85 2576.65 L844 2578.37 L845.15 2580.1 L846.3 2581.82 L847.43 2583.55 L848.57 2585.27 L849.7 2587 L850.83 2588.72 L851.95 2590.44 L853.07 2592.17 L854.19 2593.89 L855.3 2595.62 L856.41 2597.34 L857.52 2599.07 L858.62 2600.79 L859.71 2602.51 L860.81 2604.24 L861.89 2605.96 L862.98 2607.69 L864.06 2609.41 L865.14 2611.13 L866.21 2612.86 L867.28 2614.58 L868.34 2616.31 L869.4 2618.03 L870.46 2619.76 L871.51 2621.48 L872.56 2623.2 L873.61 2624.93 L874.65 2626.65 L875.69 2628.38 L876.72 2630.1 L877.75 2631.83 L878.77 2633.55 L879.79 2635.27 L880.81 2637 L881.82 2638.72 L882.83 2640.45 L883.83 2642.17 L884.83 2643.89 L885.83 2645.62 L886.82 2647.34 L887.81 2649.07 L888.79 2650.79 L889.77 2652.52 L890.74 2654.24 L891.72 2655.96 L892.68 2657.69 L893.65 2659.41 L894.6 2661.14 L895.56 2662.86 L896.51 2664.59 L897.45 2666.31 L898.39 2668.03 L899.33 2669.76 L900.27 2671.48 L901.19 2673.21 L902.12 2674.93 L903.04 2676.65 L903.96 2678.38 L904.87 2680.1 L905.77 2681.83 L906.68 2683.55 L907.58 2685.28 L908.47 2687 L909.36 2688.72 L910.25 2690.45 L911.13 2692.17 L912.01 2693.9 L912.88 2695.62 L913.75 2697.35 L914.61 2699.07 L915.47 2700.79 L916.33 2702.52 L917.18 2704.24 L918.03 2705.97 L918.87 2707.69 L919.71 2709.41 L920.54 2711.14 L921.37 2712.86 L922.2 2714.59 L923.02 2716.31 L923.84 2718.04 L924.65 2719.76 L925.46 2721.48 L926.26 2723.21 L927.06 2724.93 L927.85 2726.66 L928.64 2728.38 L929.43 2730.11 L930.21 2731.83 L930.99 2733.55 L931.76 2735.28 L932.53 2737 L933.29 2738.73 L934.05 2740.45 L934.8 2742.17 L935.55 2743.9 L936.3 2745.62 L937.04 2747.35 L937.77 2749.07 L938.51 2750.8 L939.23 2752.52 L939.96 2754.24 L940.67 2755.97 L941.39 2757.69 L942.1 2759.42 L942.8 2761.14 L943.5 2762.87 L944.2 2764.59 L944.89 2766.31 L945.58 2768.04 L946.26 2769.76 L946.94 2771.49 L947.61 2773.21 L948.28 2774.93 L948.94 2776.66 L949.6 2778.38 L950.25 2780.11 L950.9 2781.83 L951.55 2783.56 L952.19 2785.28 L952.83 2787 L953.46 2788.73 L954.08 2790.45 L954.71 2792.18 L955.32 2793.9 L955.94 2795.63 L956.55 2797.35 L957.15 2799.07 L957.75 2800.8 L958.34 2802.52 L958.93 2804.25 L959.52 2805.97 L960.1 2807.69 L960.68 2809.42 L961.25 2811.14 L961.81 2812.87 L962.38 2814.59 L962.93 2816.32 L963.49 2818.04 L964.03 2819.76 L964.58 2821.49 L965.11 2823.21 L965.65 2824.94 L966.18 2826.66 L966.7 2828.39 L967.22 2830.11 L967.74 2831.83 L968.25 2833.56 L968.75 2835.28 L969.25 2837.01 L969.75 2838.73 L970.24 2840.45 L970.73 2842.18 L971.21 2843.9 L971.69 2845.63 L972.16 2847.35 L972.63 2849.08 L973.09 2850.8 L973.55 2852.52 L974 2854.25 L974.45 2855.97 L974.9 2857.7 L975.33 2859.42 L975.77 2861.15 L976.2 2862.87 L976.62 2864.59 L977.04 2866.32 L977.46 2868.04 L977.87 2869.77 L978.28 2871.49 L978.68 2873.21 L979.07 2874.94 L979.46 2876.66 L979.85 2878.39 L980.23 2880.11 L980.61 2881.84 L980.98 2883.56 L981.35 2885.28 L981.71 2887.01 L982.07 2888.73 L982.42 2890.46 L982.77 2892.18 L983.11 2893.91 L983.45 2895.63 L983.79 2897.35 L984.12 2899.08 L984.44 2900.8 L984.76 2902.53 L985.07 2904.25 L985.38 2905.97 L985.69 2907.7 L985.99 2909.42 L986.28 2911.15 L986.57 2912.87 L986.86 2914.6 L987.14 2916.32 L987.42 2918.04 L987.69 2919.77 L987.95 2921.49 L988.21 2923.22 L988.47 2924.94 L988.72 2926.67 L988.97 2928.39 L989.21 2930.11 L989.45 2931.84 L989.68 2933.56 L989.91 2935.29 L990.13 2937.01 L990.35 2938.73 L990.56 2940.46 L990.77 2942.18 L990.97 2943.91 L991.17 2945.63 L991.36 2947.36 L991.55 2949.08 L991.73 2950.8 L991.91 2952.53 L992.09 2954.25 L992.25 2955.98 L992.42 2957.7 L992.58 2959.43 L992.73 2961.15 L992.88 2962.87 L993.02 2964.6 L993.16 2966.32 L993.3 2968.05 L993.43 2969.77 L993.55 2971.49 L993.67 2973.22 L993.79 2974.94 L993.9 2976.67 L994 2978.39 L994.1 2980.12 L994.2 2981.84 L994.29 2983.56 L994.38 2985.29 L994.46 2987.01 L994.53 2988.74 L994.6 2990.46 L994.67 2992.19 L994.73 2993.91 L994.79 2995.63 L994.84 2997.36 L994.89 2999.08 L994.93 3000.81 L994.96 3002.53 L995 3004.25 L995.02 3005.98 L995.04 3007.7 L995.06 3009.43 L995.07 3011.15 L995.08 3012.88 L995.08 3014.6" fill="none" stroke="#D95319" stroke-width="7.2" stroke-linejoin="round"/><path d="M296.34 1896.87 L298.33 1898.74 L300.33 1900.6 L302.32 1902.47 L304.32 1904.33 L306.32 1906.2 L308.32 1908.07 L310.33 1909.93 L312.33 1911.8 L314.34 1913.66 L316.35 1915.53 L318.36 1917.4 L320.38 1919.26 L322.39 1921.13 L324.41 1922.99 L326.43 1924.86 L328.45 1926.73 L330.48 1928.59 L332.5 1930.46 L334.53 1932.32 L336.56 1934.19 L338.59 1936.06 L340.62 1937.92 L342.65 1939.79 L344.69 1941.65 L346.72 1943.52 L348.76 1945.39 L350.8 1947.25 L352.84 1949.12 L354.88 1950.98 L356.93 1952.85 L358.97 1954.72 L361.02 1956.58 L363.07 1958.45 L365.12 1960.31 L367.17 1962.18 L369.23 1964.05 L371.28 1965.91 L373.34 1967.78 L375.39 1969.64 L377.45 1971.51 L379.51 1973.38 L381.57 1975.24 L383.63 1977.11 L385.7 1978.97 L387.76 1980.84 L389.83 1982.71 L391.89 1984.57 L393.96 1986.44 L396.03 1988.3 L398.1 1990.17 L400.17 1992.04 L402.24 1993.9 L404.32 1995.77 L406.39 1997.63 L408.47 1999.5 L410.54 2001.37 L412.62 2003.23 L414.7 2005.1 L416.78 2006.96 L418.86 2008.83 L420.94 2010.7 L423.02 2012.56 L425.1 2014.43 L427.18 2016.29 L429.27 2018.16 L431.35 2020.03 L433.44 2021.89 L435.52 2023.76 L437.61 2025.62 L439.7 2027.49 L441.78 2029.36 L443.87 2031.22 L445.96 2033.09 L448.05 2034.95 L450.14 2036.82 L452.23 2038.69 L454.32 2040.55 L456.41 2042.42 L458.5 2044.28 L460.59 2046.15 L462.69 2048.02 L464.78 2049.88 L466.87 2051.75 L468.97 2053.61 L471.06 2055.48 L473.15 2057.35 L475.25 2059.21 L477.34 2061.08 L479.44 2062.94 L481.53 2064.81 L483.63 2066.68 L485.72 2068.54 L487.82 2070.41 L489.91 2072.27 L492.01 2074.14 L494.1 2076.01 L496.2 2077.87 L498.29 2079.74 L500.39 2081.6 L502.48 2083.47 L504.58 2085.34 L506.67 2087.2 L508.77 2089.07 L510.86 2090.93 L512.96 2092.8 L515.05 2094.67 L517.14 2096.53 L519.24 2098.4 L521.33 2100.26 L523.43 2102.13 L525.52 2104 L527.61 2105.86 L529.7 2107.73 L531.8 2109.59 L533.89 2111.46 L535.98 2113.33 L538.07 2115.19 L540.16 2117.06 L542.25 2118.92 L544.34 2120.79 L546.43 2122.66 L548.51 2124.52 L550.6 2126.39 L552.69 2128.25 L554.78 2130.12 L556.86 2131.99 L558.95 2133.85 L561.03 2135.72 L563.11 2137.58 L565.2 2139.45 L567.28 2141.32 L569.36 2143.18 L571.44 2145.05 L573.52 2146.91 L575.6 2148.78 L577.68 2150.65 L579.75 2152.51 L581.83 2154.38 L583.91 2156.24 L585.98 2158.11 L588.05 2159.98 L590.13 2161.84 L592.2 2163.71 L594.27 2165.57 L596.34 2167.44 L598.41 2169.31 L600.47 2171.17 L602.54 2173.04 L604.6 2174.9 L606.67 2176.77 L608.73 2178.64 L610.79 2180.5 L612.85 2182.37 L614.91 2184.23 L616.96 2186.1 L619.02 2187.97 L621.08 2189.83 L623.13 2191.7 L625.18 2193.56 L627.23 2195.43 L629.28 2197.3 L631.33 2199.16 L633.37 2201.03 L635.42 2202.89 L637.46 2204.76 L639.5 2206.63 L641.54 2208.49 L643.58 2210.36 L645.62 2212.22 L647.65 2214.09 L649.69 2215.96 L651.72 2217.82 L653.75 2219.69 L655.78 2221.55 L657.81 2223.42 L659.83 2225.29 L661.85 2227.15 L663.88 2229.02 L665.9 2230.88 L667.91 2232.75 L669.93 2234.62 L671.94 2236.48 L673.96 2238.35 L675.97 2240.21 L677.98 2242.08 L679.98 2243.95 L681.99 2245.81 L683.99 2247.68 L685.99 2249.54 L687.99 2251.41 L689.99 2253.28 L691.98 2255.14 L693.97 2257.01 L695.96 2258.87 L697.95 2260.74 L699.94 2262.61 L701.92 2264.47 L703.9 2266.34 L705.88 2268.2 L707.86 2270.07 L709.83 2271.94 L711.81 2273.8 L713.78 2275.67 L715.75 2277.53 L717.71 2279.4 L719.68 2281.26 L721.64 2283.13 L723.59 2285 L725.55 2286.86 L727.5 2288.73 L729.46 2290.59 L731.41 2292.46 L733.35 2294.33 L735.3 2296.19 L737.24 2298.06 L739.18 2299.92 L741.11 2301.79 L743.05 2303.66 L744.98 2305.52 L746.9 2307.39 L748.83 2309.25 L750.75 2311.12 L752.67 2312.99 L754.59 2314.85 L756.51 2316.72 L758.42 2318.58 L760.33 2320.45 L762.23 2322.32 L764.14 2324.18 L766.04 2326.05 L767.94 2327.91 L769.83 2329.78 L771.73 2331.65 L773.62 2333.51 L775.5 2335.38 L777.39 2337.24 L779.27 2339.11 L781.14 2340.98 L783.02 2342.84 L784.89 2344.71 L786.76 2346.57 L788.63 2348.44 L790.49 2350.31 L792.35 2352.17 L794.2 2354.04 L796.06 2355.9 L797.91 2357.77 L799.75 2359.64 L801.6 2361.5 L803.44 2363.37 L805.28 2365.23 L807.11 2367.1 L808.94 2368.97 L810.77 2370.83 L812.6 2372.7 L814.42 2374.56 L816.23 2376.43 L818.05 2378.3 L819.86 2380.16 L821.67 2382.03 L823.47 2383.89 L825.27 2385.76 L827.07 2387.63 L828.87 2389.49 L830.66 2391.36 L832.44 2393.22 L834.23 2395.09 L836.01 2396.96 L837.79 2398.82 L839.56 2400.69 L841.33 2402.55 L843.1 2404.42 L844.86 2406.29 L846.62 2408.15 L848.37 2410.02 L850.12 2411.88 L851.87 2413.75 L853.62 2415.62 L855.36 2417.48 L857.1 2419.35 L858.83 2421.21 L860.56 2423.08 L862.28 2424.95 L864.01 2426.81 L865.73 2428.68 L867.44 2430.54 L869.15 2432.41 L870.86 2434.28 L872.56 2436.14 L874.26 2438.01 L875.96 2439.87 L877.65 2441.74 L879.33 2443.61 L881.02 2445.47 L882.7 2447.34 L884.37 2449.2 L886.05 2451.07 L887.71 2452.94 L889.38 2454.8 L891.04 2456.67 L892.69 2458.53 L894.35 2460.4 L895.99 2462.27 L897.64 2464.13 L899.28 2466 L900.91 2467.86 L902.54 2469.73 L904.17 2471.6 L905.79 2473.46 L907.41 2475.33 L909.03 2477.19 L910.64 2479.06 L912.24 2480.93 L913.85 2482.79 L915.44 2484.66 L917.04 2486.52 L918.63 2488.39 L920.21 2490.26 L921.79 2492.12 L923.37 2493.99 L924.94 2495.85 L926.51 2497.72 L928.07 2499.59 L929.63 2501.45 L931.18 2503.32 L932.74 2505.18 L934.28 2507.05 L935.82 2508.92 L937.36 2510.78 L938.89 2512.65 L940.42 2514.51 L941.94 2516.38 L943.46 2518.25 L944.98 2520.11 L946.49 2521.98 L947.99 2523.84 L949.49 2525.71 L950.99 2527.58 L952.48 2529.44 L953.97 2531.31 L955.45 2533.17 L956.93 2535.04 L958.4 2536.91 L959.87 2538.77 L961.34 2540.64 L962.8 2542.5 L964.25 2544.37 L965.7 2546.24 L967.15 2548.1 L968.59 2549.97 L970.02 2551.83 L971.45 2553.7 L972.88 2555.57 L974.3 2557.43 L975.72 2559.3 L977.13 2561.16 L978.54 2563.03 L979.94 2564.9 L981.34 2566.76 L982.73 2568.63 L984.12 2570.49 L985.5 2572.36 L986.88 2574.23 L988.25 2576.09 L989.62 2577.96 L990.99 2579.82 L992.34 2581.69 L993.7 2583.56 L995.05 2585.42 L996.39 2587.29 L997.73 2589.15 L999.06 2591.02 L1000.39 2592.89 L1001.72 2594.75 L1003.03 2596.62 L1004.35 2598.48 L1005.66 2600.35 L1006.96 2602.22 L1008.26 2604.08 L1009.55 2605.95 L1010.84 2607.81 L1012.12 2609.68 L1013.4 2611.55 L1014.68 2613.41 L1015.94 2615.28 L1017.21 2617.14 L1018.46 2619.01 L1019.72 2620.88 L1020.96 2622.74 L1022.21 2624.61 L1023.44 2626.47 L1024.67 2628.34 L1025.9 2630.21 L1027.12 2632.07 L1028.34 2633.94 L1029.55 2635.8 L1030.76 2637.67 L1031.96 2639.54 L1033.15 2641.4 L1034.34 2643.27 L1035.52 2645.13 L1036.7 2647 L1037.88 2648.87 L1039.05 2650.73 L1040.21 2652.6 L1041.37 2654.46 L1042.52 2656.33 L1043.67 2658.2 L1044.81 2660.06 L1045.94 2661.93 L1047.08 2663.79 L1048.2 2665.66 L1049.32 2667.53 L1050.44 2669.39 L1051.54 2671.26 L1052.65 2673.12 L1053.75 2674.99 L1054.84 2676.86 L1055.93 2678.72 L1057.01 2680.59 L1058.09 2682.45 L1059.16 2684.32 L1060.22 2686.19 L1061.28 2688.05 L1062.34 2689.92 L1063.38 2691.78 L1064.43 2693.65 L1065.47 2695.52 L1066.5 2697.38 L1067.52 2699.25 L1068.55 2701.11 L1069.56 2702.98 L1070.57 2704.85 L1071.58 2706.71 L1072.57 2708.58 L1073.57 2710.44 L1074.55 2712.31 L1075.54 2714.18 L1076.51 2716.04 L1077.48 2717.91 L1078.45 2719.77 L1079.41 2721.64 L1080.36 2723.51 L1081.31 2725.37 L1082.25 2727.24 L1083.19 2729.1 L1084.12 2730.97 L1085.04 2732.84 L1085.96 2734.7 L1086.87 2736.57 L1087.78 2738.43 L1088.68 2740.3 L1089.58 2742.17 L1090.47 2744.03 L1091.36 2745.9 L1092.23 2747.76 L1093.11 2749.63 L1093.98 2751.5 L1094.84 2753.36 L1095.69 2755.23 L1096.54 2757.09 L1097.39 2758.96 L1098.22 2760.83 L1099.06 2762.69 L1099.88 2764.56 L1100.7 2766.42 L1101.52 2768.29 L1102.33 2770.15 L1103.13 2772.02 L1103.93 2773.89 L1104.72 2775.75 L1105.51 2777.62 L1106.29 2779.48 L1107.06 2781.35 L1107.83 2783.22 L1108.59 2785.08 L1109.35 2786.95 L1110.1 2788.81 L1110.84 2790.68 L1111.58 2792.55 L1112.31 2794.41 L1113.04 2796.28 L1113.76 2798.14 L1114.47 2800.01 L1115.18 2801.88 L1115.88 2803.74 L1116.58 2805.61 L1117.27 2807.47 L1117.95 2809.34 L1118.63 2811.21 L1119.31 2813.07 L1119.97 2814.94 L1120.63 2816.8 L1121.29 2818.67 L1121.94 2820.54 L1122.58 2822.4 L1123.22 2824.27 L1123.85 2826.13 L1124.47 2828 L1125.09 2829.87 L1125.7 2831.73 L1126.31 2833.6 L1126.91 2835.46 L1127.5 2837.33 L1128.09 2839.2 L1128.67 2841.06 L1129.25 2842.93 L1129.82 2844.79 L1130.38 2846.66 L1130.94 2848.53 L1131.49 2850.39 L1132.04 2852.26 L1132.57 2854.12 L1133.11 2855.99 L1133.64 2857.86 L1134.16 2859.72 L1134.67 2861.59 L1135.18 2863.45 L1135.68 2865.32 L1136.18 2867.19 L1136.67 2869.05 L1137.15 2870.92 L1137.63 2872.78 L1138.1 2874.65 L1138.57 2876.52 L1139.03 2878.38 L1139.48 2880.25 L1139.93 2882.11 L1140.37 2883.98 L1140.8 2885.85 L1141.23 2887.71 L1141.66 2889.58 L1142.07 2891.44 L1142.48 2893.31 L1142.89 2895.18 L1143.28 2897.04 L1143.68 2898.91 L1144.06 2900.77 L1144.44 2902.64 L1144.81 2904.51 L1145.18 2906.37 L1145.54 2908.24 L1145.89 2910.1 L1146.24 2911.97 L1146.58 2913.84 L1146.92 2915.7 L1147.25 2917.57 L1147.57 2919.43 L1147.89 2921.3 L1148.2 2923.17 L1148.51 2925.03 L1148.8 2926.9 L1149.1 2928.76 L1149.38 2930.63 L1149.66 2932.5 L1149.93 2934.36 L1150.2 2936.23 L1150.46 2938.09 L1150.72 2939.96 L1150.96 2941.83 L1151.21 2943.69 L1151.44 2945.56 L1151.67 2947.42 L1151.89 2949.29 L1152.11 2951.16 L1152.32 2953.02 L1152.53 2954.89 L1152.72 2956.75 L1152.92 2958.62 L1153.1 2960.49 L1153.28 2962.35 L1153.45 2964.22 L1153.62 2966.08 L1153.78 2967.95 L1153.94 2969.82 L1154.08 2971.68 L1154.23 2973.55 L1154.36 2975.41 L1154.49 2977.28 L1154.61 2979.15 L1154.73 2981.01 L1154.84 2982.88 L1154.94 2984.74 L1155.04 2986.61 L1155.13 2988.48 L1155.22 2990.34 L1155.3 2992.21 L1155.37 2994.07 L1155.43 2995.94 L1155.49 2997.81 L1155.55 2999.67 L1155.59 3001.54 L1155.64 3003.4 L1155.67 3005.27 L1155.7 3007.14 L1155.72 3009 L1155.74 3010.87 L1155.75 3012.73 L1155.75 3014.6" fill="none" stroke="#D95319" stroke-width="7.2" stroke-linejoin="round" stroke-dasharray="30.9 30.83"/><path d="M296.34 2477.1 L296.81 2478 L297.28 2478.89 L297.75 2479.79 L298.22 2480.69 L298.69 2481.59 L299.16 2482.48 L299.62 2483.38 L300.09 2484.28 L300.56 2485.18 L301.02 2486.07 L301.49 2486.97 L301.95 2487.87 L302.41 2488.76 L302.88 2489.66 L303.34 2490.56 L303.8 2491.46 L304.26 2492.35 L304.72 2493.25 L305.18 2494.15 L305.64 2495.05 L306.1 2495.94 L306.56 2496.84 L307.02 2497.74 L307.47 2498.64 L307.93 2499.53 L308.39 2500.43 L308.84 2501.33 L309.3 2502.22 L309.75 2503.12 L310.2 2504.02 L310.66 2504.92 L311.11 2505.81 L311.56 2506.71 L312.01 2507.61 L312.46 2508.51 L312.91 2509.4 L313.36 2510.3 L313.81 2511.2 L314.25 2512.1 L314.7 2512.99 L315.15 2513.89 L315.59 2514.79 L316.04 2515.68 L316.48 2516.58 L316.93 2517.48 L317.37 2518.38 L317.81 2519.27 L318.26 2520.17 L318.7 2521.07 L319.14 2521.97 L319.58 2522.86 L320.02 2523.76 L320.46 2524.66 L320.89 2525.56 L321.33 2526.45 L321.77 2527.35 L322.2 2528.25 L322.64 2529.14 L323.08 2530.04 L323.51 2530.94 L323.94 2531.84 L324.38 2532.73 L324.81 2533.63 L325.24 2534.53 L325.67 2535.43 L326.1 2536.32 L326.53 2537.22 L326.96 2538.12 L327.39 2539.02 L327.82 2539.91 L328.24 2540.81 L328.67 2541.71 L329.1 2542.6 L329.52 2543.5 L329.95 2544.4 L330.37 2545.3 L330.79 2546.19 L331.22 2547.09 L331.64 2547.99 L332.06 2548.89 L332.48 2549.78 L332.9 2550.68 L333.32 2551.58 L333.74 2552.48 L334.16 2553.37 L334.57 2554.27 L334.99 2555.17 L335.41 2556.06 L335.82 2556.96 L336.24 2557.86 L336.65 2558.76 L337.06 2559.65 L337.47 2560.55 L337.89 2561.45 L338.3 2562.35 L338.71 2563.24 L339.12 2564.14 L339.53 2565.04 L339.94 2565.94 L340.34 2566.83 L340.75 2567.73 L341.16 2568.63 L341.56 2569.52 L341.97 2570.42 L342.37 2571.32 L342.78 2572.22 L343.18 2573.11 L343.58 2574.01 L343.98 2574.91 L344.38 2575.81 L344.78 2576.7 L345.18 2577.6 L345.58 2578.5 L345.98 2579.4 L346.38 2580.29 L346.78 2581.19 L347.17 2582.09 L347.57 2582.98 L347.96 2583.88 L348.36 2584.78 L348.75 2585.68 L349.14 2586.57 L349.53 2587.47 L349.93 2588.37 L350.32 2589.27 L350.71 2590.16 L351.1 2591.06 L351.48 2591.96 L351.87 2592.86 L352.26 2593.75 L352.65 2594.65 L353.03 2595.55 L353.42 2596.44 L353.8 2597.34 L354.18 2598.24 L354.57 2599.14 L354.95 2600.03 L355.33 2600.93 L355.71 2601.83 L356.09 2602.73 L356.47 2603.62 L356.85 2604.52 L357.23 2605.42 L357.6 2606.32 L357.98 2607.21 L358.36 2608.11 L358.73 2609.01 L359.1 2609.9 L359.48 2610.8 L359.85 2611.7 L360.22 2612.6 L360.59 2613.49 L360.97 2614.39 L361.34 2615.29 L361.7 2616.19 L362.07 2617.08 L362.44 2617.98 L362.81 2618.88 L363.17 2619.77 L363.54 2620.67 L363.9 2621.57 L364.27 2622.47 L364.63 2623.36 L365 2624.26 L365.36 2625.16 L365.72 2626.06 L366.08 2626.95 L366.44 2627.85 L366.8 2628.75 L367.16 2629.65 L367.51 2630.54 L367.87 2631.44 L368.23 2632.34 L368.58 2633.23 L368.94 2634.13 L369.29 2635.03 L369.64 2635.93 L370 2636.82 L370.35 2637.72 L370.7 2638.62 L371.05 2639.52 L371.4 2640.41 L371.75 2641.31 L372.1 2642.21 L372.44 2643.11 L372.79 2644 L373.13 2644.9 L373.48 2645.8 L373.82 2646.69 L374.17 2647.59 L374.51 2648.49 L374.85 2649.39 L375.19 2650.28 L375.53 2651.18 L375.87 2652.08 L376.21 2652.98 L376.55 2653.87 L376.89 2654.77 L377.23 2655.67 L377.56 2656.57 L377.9 2657.46 L378.23 2658.36 L378.56 2659.26 L378.9 2660.15 L379.23 2661.05 L379.56 2661.95 L379.89 2662.85 L380.22 2663.74 L380.55 2664.64 L380.88 2665.54 L381.21 2666.44 L381.53 2667.33 L381.86 2668.23 L382.19 2669.13 L382.51 2670.03 L382.83 2670.92 L383.16 2671.82 L383.48 2672.72 L383.8 2673.61 L384.12 2674.51 L384.44 2675.41 L384.76 2676.31 L385.08 2677.2 L385.4 2678.1 L385.71 2679 L386.03 2679.9 L386.35 2680.79 L386.66 2681.69 L386.97 2682.59 L387.29 2683.49 L387.6 2684.38 L387.91 2685.28 L388.22 2686.18 L388.53 2687.07 L388.84 2687.97 L389.15 2688.87 L389.46 2689.77 L389.76 2690.66 L390.07 2691.56 L390.38 2692.46 L390.68 2693.36 L390.98 2694.25 L391.29 2695.15 L391.59 2696.05 L391.89 2696.95 L392.19 2697.84 L392.49 2698.74 L392.79 2699.64 L393.09 2700.53 L393.39 2701.43 L393.68 2702.33 L393.98 2703.23 L394.27 2704.12 L394.57 2705.02 L394.86 2705.92 L395.16 2706.82 L395.45 2707.71 L395.74 2708.61 L396.03 2709.51 L396.32 2710.41 L396.61 2711.3 L396.9 2712.2 L397.18 2713.1 L397.47 2713.99 L397.76 2714.89 L398.04 2715.79 L398.32 2716.69 L398.61 2717.58 L398.89 2718.48 L399.17 2719.38 L399.45 2720.28 L399.73 2721.17 L400.01 2722.07 L400.29 2722.97 L400.57 2723.87 L400.85 2724.76 L401.12 2725.66 L401.4 2726.56 L401.67 2727.45 L401.95 2728.35 L402.22 2729.25 L402.49 2730.15 L402.76 2731.04 L403.03 2731.94 L403.3 2732.84 L403.57 2733.74 L403.84 2734.63 L404.11 2735.53 L404.37 2736.43 L404.64 2737.33 L404.9 2738.22 L405.17 2739.12 L405.43 2740.02 L405.69 2740.91 L405.95 2741.81 L406.22 2742.71 L406.48 2743.61 L406.73 2744.5 L406.99 2745.4 L407.25 2746.3 L407.51 2747.2 L407.76 2748.09 L408.02 2748.99 L408.27 2749.89 L408.53 2750.79 L408.78 2751.68 L409.03 2752.58 L409.28 2753.48 L409.53 2754.37 L409.78 2755.27 L410.03 2756.17 L410.28 2757.07 L410.53 2757.96 L410.77 2758.86 L411.02 2759.76 L411.26 2760.66 L411.51 2761.55 L411.75 2762.45 L411.99 2763.35 L412.23 2764.25 L412.47 2765.14 L412.71 2766.04 L412.95 2766.94 L413.19 2767.83 L413.43 2768.73 L413.66 2769.63 L413.9 2770.53 L414.13 2771.42 L414.37 2772.32 L414.6 2773.22 L414.83 2774.12 L415.06 2775.01 L415.29 2775.91 L415.52 2776.81 L415.75 2777.7 L415.98 2778.6 L416.21 2779.5 L416.43 2780.4 L416.66 2781.29 L416.89 2782.19 L417.11 2783.09 L417.33 2783.99 L417.55 2784.88 L417.78 2785.78 L418 2786.68 L418.22 2787.58 L418.44 2788.47 L418.65 2789.37 L418.87 2790.27 L419.09 2791.16 L419.3 2792.06 L419.52 2792.96 L419.73 2793.86 L419.94 2794.75 L420.16 2795.65 L420.37 2796.55 L420.58 2797.45 L420.79 2798.34 L421 2799.24 L421.21 2800.14 L421.41 2801.04 L421.62 2801.93 L421.83 2802.83 L422.03 2803.73 L422.23 2804.62 L422.44 2805.52 L422.64 2806.42 L422.84 2807.32 L423.04 2808.21 L423.24 2809.11 L423.44 2810.01 L423.64 2810.91 L423.84 2811.8 L424.03 2812.7 L424.23 2813.6 L424.42 2814.5 L424.62 2815.39 L424.81 2816.29 L425 2817.19 L425.19 2818.08 L425.38 2818.98 L425.57 2819.88 L425.76 2820.78 L425.95 2821.67 L426.14 2822.57 L426.32 2823.47 L426.51 2824.37 L426.69 2825.26 L426.88 2826.16 L427.06 2827.06 L427.24 2827.96 L427.42 2828.85 L427.6 2829.75 L427.78 2830.65 L427.96 2831.54 L428.14 2832.44 L428.31 2833.34 L428.49 2834.24 L428.67 2835.13 L428.84 2836.03 L429.01 2836.93 L429.19 2837.83 L429.36 2838.72 L429.53 2839.62 L429.7 2840.52 L429.87 2841.42 L430.04 2842.31 L430.2 2843.21 L430.37 2844.11 L430.54 2845 L430.7 2845.9 L430.86 2846.8 L431.03 2847.7 L431.19 2848.59 L431.35 2849.49 L431.51 2850.39 L431.67 2851.29 L431.83 2852.18 L431.99 2853.08 L432.15 2853.98 L432.3 2854.88 L432.46 2855.77 L432.61 2856.67 L432.77 2857.57 L432.92 2858.46 L433.07 2859.36 L433.22 2860.26 L433.37 2861.16 L433.52 2862.05 L433.67 2862.95 L433.82 2863.85 L433.97 2864.75 L434.11 2865.64 L434.26 2866.54 L434.4 2867.44 L434.55 2868.34 L434.69 2869.23 L434.83 2870.13 L434.97 2871.03 L435.11 2871.92 L435.25 2872.82 L435.39 2873.72 L435.52 2874.62 L435.66 2875.51 L435.8 2876.41 L435.93 2877.31 L436.07 2878.21 L436.2 2879.1 L436.33 2880 L436.46 2880.9 L436.59 2881.8 L436.72 2882.69 L436.85 2883.59 L436.98 2884.49 L437.11 2885.38 L437.23 2886.28 L437.36 2887.18 L437.48 2888.08 L437.61 2888.97 L437.73 2889.87 L437.85 2890.77 L437.97 2891.67 L438.09 2892.56 L438.21 2893.46 L438.33 2894.36 L438.45 2895.26 L438.56 2896.15 L438.68 2897.05 L438.79 2897.95 L438.91 2898.84 L439.02 2899.74 L439.13 2900.64 L439.24 2901.54 L439.35 2902.43 L439.46 2903.33 L439.57 2904.23 L439.68 2905.13 L439.79 2906.02 L439.89 2906.92 L440 2907.82 L440.1 2908.72 L440.21 2909.61 L440.31 2910.51 L440.41 2911.41 L440.51 2912.3 L440.61 2913.2 L440.71 2914.1 L440.81 2915 L440.91 2915.89 L441 2916.79 L441.1 2917.69 L441.19 2918.59 L441.29 2919.48 L441.38 2920.38 L441.47 2921.28 L441.56 2922.18 L441.65 2923.07 L441.74 2923.97 L441.83 2924.87 L441.92 2925.76 L442.01 2926.66 L442.09 2927.56 L442.18 2928.46 L442.26 2929.35 L442.35 2930.25 L442.43 2931.15 L442.51 2932.05 L442.59 2932.94 L442.67 2933.84 L442.75 2934.74 L442.83 2935.63 L442.9 2936.53 L442.98 2937.43 L443.06 2938.33 L443.13 2939.22 L443.2 2940.12 L443.28 2941.02 L443.35 2941.92 L443.42 2942.81 L443.49 2943.71 L443.56 2944.61 L443.63 2945.51 L443.7 2946.4 L443.76 2947.3 L443.83 2948.2 L443.89 2949.09 L443.96 2949.99 L444.02 2950.89 L444.08 2951.79 L444.14 2952.68 L444.2 2953.58 L444.26 2954.48 L444.32 2955.38 L444.38 2956.27 L444.44 2957.17 L444.49 2958.07 L444.55 2958.97 L444.6 2959.86 L444.66 2960.76 L444.71 2961.66 L444.76 2962.55 L444.81 2963.45 L444.86 2964.35 L444.91 2965.25 L444.96 2966.14 L445.01 2967.04 L445.05 2967.94 L445.1 2968.84 L445.14 2969.73 L445.19 2970.63 L445.23 2971.53 L445.27 2972.43 L445.31 2973.32 L445.35 2974.22 L445.39 2975.12 L445.43 2976.01 L445.47 2976.91 L445.5 2977.81 L445.54 2978.71 L445.58 2979.6 L445.61 2980.5 L445.64 2981.4 L445.68 2982.3 L445.71 2983.19 L445.74 2984.09 L445.77 2984.99 L445.8 2985.89 L445.82 2986.78 L445.85 2987.68 L445.88 2988.58 L445.9 2989.47 L445.93 2990.37 L445.95 2991.27 L445.97 2992.17 L445.99 2993.06 L446.01 2993.96 L446.03 2994.86 L446.05 2995.76 L446.07 2996.65 L446.09 2997.55 L446.1 2998.45 L446.12 2999.35 L446.13 3000.24 L446.15 3001.14 L446.16 3002.04 L446.17 3002.93 L446.18 3003.83 L446.19 3004.73 L446.2 3005.63 L446.21 3006.52 L446.22 3007.42 L446.23 3008.32 L446.23 3009.22 L446.24 3010.11 L446.24 3011.01 L446.24 3011.91 L446.25 3012.81 L446.25 3013.7 L446.25 3014.6" fill="none" stroke="#0072BD" stroke-width="7.2" stroke-linejoin="round"/><path d="M296.34 2330.16 L297.11 2331.31 L297.88 2332.45 L298.66 2333.59 L299.43 2334.73 L300.2 2335.88 L300.96 2337.02 L301.73 2338.16 L302.5 2339.3 L303.27 2340.45 L304.03 2341.59 L304.8 2342.73 L305.56 2343.88 L306.33 2345.02 L307.09 2346.16 L307.85 2347.3 L308.61 2348.45 L309.37 2349.59 L310.13 2350.73 L310.89 2351.87 L311.65 2353.02 L312.41 2354.16 L313.16 2355.3 L313.92 2356.44 L314.68 2357.59 L315.43 2358.73 L316.18 2359.87 L316.94 2361.01 L317.69 2362.16 L318.44 2363.3 L319.19 2364.44 L319.94 2365.59 L320.69 2366.73 L321.44 2367.87 L322.18 2369.01 L322.93 2370.16 L323.68 2371.3 L324.42 2372.44 L325.17 2373.58 L325.91 2374.73 L326.65 2375.87 L327.39 2377.01 L328.13 2378.15 L328.87 2379.3 L329.61 2380.44 L330.35 2381.58 L331.09 2382.72 L331.82 2383.87 L332.56 2385.01 L333.29 2386.15 L334.03 2387.3 L334.76 2388.44 L335.49 2389.58 L336.22 2390.72 L336.95 2391.87 L337.68 2393.01 L338.41 2394.15 L339.14 2395.29 L339.87 2396.44 L340.59 2397.58 L341.32 2398.72 L342.04 2399.86 L342.77 2401.01 L343.49 2402.15 L344.21 2403.29 L344.93 2404.43 L345.65 2405.58 L346.37 2406.72 L347.09 2407.86 L347.81 2409.01 L348.52 2410.15 L349.24 2411.29 L349.95 2412.43 L350.67 2413.58 L351.38 2414.72 L352.09 2415.86 L352.8 2417 L353.51 2418.15 L354.22 2419.29 L354.93 2420.43 L355.63 2421.57 L356.34 2422.72 L357.05 2423.86 L357.75 2425 L358.45 2426.14 L359.16 2427.29 L359.86 2428.43 L360.56 2429.57 L361.26 2430.72 L361.96 2431.86 L362.65 2433 L363.35 2434.14 L364.05 2435.29 L364.74 2436.43 L365.43 2437.57 L366.13 2438.71 L366.82 2439.86 L367.51 2441 L368.2 2442.14 L368.89 2443.28 L369.58 2444.43 L370.26 2445.57 L370.95 2446.71 L371.63 2447.85 L372.32 2449 L373 2450.14 L373.68 2451.28 L374.36 2452.43 L375.04 2453.57 L375.72 2454.71 L376.4 2455.85 L377.08 2457 L377.75 2458.14 L378.43 2459.28 L379.1 2460.42 L379.78 2461.57 L380.45 2462.71 L381.12 2463.85 L381.79 2464.99 L382.46 2466.14 L383.13 2467.28 L383.79 2468.42 L384.46 2469.56 L385.12 2470.71 L385.79 2471.85 L386.45 2472.99 L387.11 2474.14 L387.77 2475.28 L388.43 2476.42 L389.09 2477.56 L389.75 2478.71 L390.4 2479.85 L391.06 2480.99 L391.71 2482.13 L392.37 2483.28 L393.02 2484.42 L393.67 2485.56 L394.32 2486.7 L394.97 2487.85 L395.62 2488.99 L396.26 2490.13 L396.91 2491.27 L397.55 2492.42 L398.2 2493.56 L398.84 2494.7 L399.48 2495.85 L400.12 2496.99 L400.76 2498.13 L401.4 2499.27 L402.04 2500.42 L402.67 2501.56 L403.31 2502.7 L403.94 2503.84 L404.57 2504.99 L405.2 2506.13 L405.84 2507.27 L406.46 2508.41 L407.09 2509.56 L407.72 2510.7 L408.35 2511.84 L408.97 2512.98 L409.59 2514.13 L410.22 2515.27 L410.84 2516.41 L411.46 2517.56 L412.08 2518.7 L412.7 2519.84 L413.31 2520.98 L413.93 2522.13 L414.54 2523.27 L415.16 2524.41 L415.77 2525.55 L416.38 2526.7 L416.99 2527.84 L417.6 2528.98 L418.21 2530.12 L418.82 2531.27 L419.42 2532.41 L420.03 2533.55 L420.63 2534.69 L421.23 2535.84 L421.83 2536.98 L422.43 2538.12 L423.03 2539.27 L423.63 2540.41 L424.23 2541.55 L424.82 2542.69 L425.42 2543.84 L426.01 2544.98 L426.6 2546.12 L427.19 2547.26 L427.78 2548.41 L428.37 2549.55 L428.96 2550.69 L429.54 2551.83 L430.13 2552.98 L430.71 2554.12 L431.29 2555.26 L431.87 2556.4 L432.45 2557.55 L433.03 2558.69 L433.61 2559.83 L434.18 2560.98 L434.76 2562.12 L435.33 2563.26 L435.91 2564.4 L436.48 2565.55 L437.05 2566.69 L437.62 2567.83 L438.18 2568.97 L438.75 2570.12 L439.32 2571.26 L439.88 2572.4 L440.44 2573.54 L441.01 2574.69 L441.57 2575.83 L442.13 2576.97 L442.68 2578.11 L443.24 2579.26 L443.8 2580.4 L444.35 2581.54 L444.9 2582.69 L445.46 2583.83 L446.01 2584.97 L446.56 2586.11 L447.1 2587.26 L447.65 2588.4 L448.2 2589.54 L448.74 2590.68 L449.28 2591.83 L449.83 2592.97 L450.37 2594.11 L450.91 2595.25 L451.44 2596.4 L451.98 2597.54 L452.52 2598.68 L453.05 2599.82 L453.58 2600.97 L454.12 2602.11 L454.65 2603.25 L455.18 2604.4 L455.7 2605.54 L456.23 2606.68 L456.76 2607.82 L457.28 2608.97 L457.8 2610.11 L458.33 2611.25 L458.85 2612.39 L459.37 2613.54 L459.88 2614.68 L460.4 2615.82 L460.92 2616.96 L461.43 2618.11 L461.94 2619.25 L462.45 2620.39 L462.96 2621.53 L463.47 2622.68 L463.98 2623.82 L464.49 2624.96 L464.99 2626.11 L465.5 2627.25 L466 2628.39 L466.5 2629.53 L467 2630.68 L467.5 2631.82 L467.99 2632.96 L468.49 2634.1 L468.98 2635.25 L469.48 2636.39 L469.97 2637.53 L470.46 2638.67 L470.95 2639.82 L471.44 2640.96 L471.92 2642.1 L472.41 2643.24 L472.89 2644.39 L473.38 2645.53 L473.86 2646.67 L474.34 2647.82 L474.82 2648.96 L475.29 2650.1 L475.77 2651.24 L476.24 2652.39 L476.72 2653.53 L477.19 2654.67 L477.66 2655.81 L478.13 2656.96 L478.6 2658.1 L479.06 2659.24 L479.53 2660.38 L479.99 2661.53 L480.46 2662.67 L480.92 2663.81 L481.38 2664.95 L481.84 2666.1 L482.29 2667.24 L482.75 2668.38 L483.2 2669.53 L483.66 2670.67 L484.11 2671.81 L484.56 2672.95 L485.01 2674.1 L485.45 2675.24 L485.9 2676.38 L486.35 2677.52 L486.79 2678.67 L487.23 2679.81 L487.67 2680.95 L488.11 2682.09 L488.55 2683.24 L488.99 2684.38 L489.42 2685.52 L489.86 2686.66 L490.29 2687.81 L490.72 2688.95 L491.15 2690.09 L491.58 2691.24 L492 2692.38 L492.43 2693.52 L492.85 2694.66 L493.28 2695.81 L493.7 2696.95 L494.12 2698.09 L494.54 2699.23 L494.95 2700.38 L495.37 2701.52 L495.78 2702.66 L496.2 2703.8 L496.61 2704.95 L497.02 2706.09 L497.43 2707.23 L497.84 2708.37 L498.24 2709.52 L498.65 2710.66 L499.05 2711.8 L499.45 2712.95 L499.85 2714.09 L500.25 2715.23 L500.65 2716.37 L501.05 2717.52 L501.44 2718.66 L501.83 2719.8 L502.23 2720.94 L502.62 2722.09 L503.01 2723.23 L503.39 2724.37 L503.78 2725.51 L504.16 2726.66 L504.55 2727.8 L504.93 2728.94 L505.31 2730.08 L505.69 2731.23 L506.07 2732.37 L506.44 2733.51 L506.82 2734.66 L507.19 2735.8 L507.56 2736.94 L507.93 2738.08 L508.3 2739.23 L508.67 2740.37 L509.04 2741.51 L509.4 2742.65 L509.77 2743.8 L510.13 2744.94 L510.49 2746.08 L510.85 2747.22 L511.2 2748.37 L511.56 2749.51 L511.91 2750.65 L512.27 2751.79 L512.62 2752.94 L512.97 2754.08 L513.32 2755.22 L513.67 2756.37 L514.01 2757.51 L514.36 2758.65 L514.7 2759.79 L515.04 2760.94 L515.38 2762.08 L515.72 2763.22 L516.06 2764.36 L516.39 2765.51 L516.73 2766.65 L517.06 2767.79 L517.39 2768.93 L517.72 2770.08 L518.05 2771.22 L518.38 2772.36 L518.7 2773.5 L519.03 2774.65 L519.35 2775.79 L519.67 2776.93 L519.99 2778.08 L520.31 2779.22 L520.63 2780.36 L520.94 2781.5 L521.25 2782.65 L521.57 2783.79 L521.88 2784.93 L522.19 2786.07 L522.49 2787.22 L522.8 2788.36 L523.11 2789.5 L523.41 2790.64 L523.71 2791.79 L524.01 2792.93 L524.31 2794.07 L524.61 2795.21 L524.9 2796.36 L525.2 2797.5 L525.49 2798.64 L525.78 2799.79 L526.07 2800.93 L526.36 2802.07 L526.65 2803.21 L526.93 2804.36 L527.22 2805.5 L527.5 2806.64 L527.78 2807.78 L528.06 2808.93 L528.34 2810.07 L528.62 2811.21 L528.89 2812.35 L529.16 2813.5 L529.44 2814.64 L529.71 2815.78 L529.98 2816.92 L530.24 2818.07 L530.51 2819.21 L530.77 2820.35 L531.04 2821.5 L531.3 2822.64 L531.56 2823.78 L531.82 2824.92 L532.07 2826.07 L532.33 2827.21 L532.58 2828.35 L532.84 2829.49 L533.09 2830.64 L533.34 2831.78 L533.58 2832.92 L533.83 2834.06 L534.08 2835.21 L534.32 2836.35 L534.56 2837.49 L534.8 2838.63 L535.04 2839.78 L535.28 2840.92 L535.51 2842.06 L535.75 2843.21 L535.98 2844.35 L536.21 2845.49 L536.44 2846.63 L536.67 2847.78 L536.9 2848.92 L537.12 2850.06 L537.34 2851.2 L537.57 2852.35 L537.79 2853.49 L538.01 2854.63 L538.22 2855.77 L538.44 2856.92 L538.65 2858.06 L538.87 2859.2 L539.08 2860.34 L539.29 2861.49 L539.5 2862.63 L539.7 2863.77 L539.91 2864.92 L540.11 2866.06 L540.31 2867.2 L540.51 2868.34 L540.71 2869.49 L540.91 2870.63 L541.11 2871.77 L541.3 2872.91 L541.49 2874.06 L541.69 2875.2 L541.88 2876.34 L542.06 2877.48 L542.25 2878.63 L542.44 2879.77 L542.62 2880.91 L542.8 2882.05 L542.98 2883.2 L543.16 2884.34 L543.34 2885.48 L543.52 2886.63 L543.69 2887.77 L543.86 2888.91 L544.03 2890.05 L544.2 2891.2 L544.37 2892.34 L544.54 2893.48 L544.7 2894.62 L544.87 2895.77 L545.03 2896.91 L545.19 2898.05 L545.35 2899.19 L545.51 2900.34 L545.66 2901.48 L545.82 2902.62 L545.97 2903.76 L546.12 2904.91 L546.27 2906.05 L546.42 2907.19 L546.56 2908.34 L546.71 2909.48 L546.85 2910.62 L547 2911.76 L547.14 2912.91 L547.27 2914.05 L547.41 2915.19 L547.55 2916.33 L547.68 2917.48 L547.81 2918.62 L547.94 2919.76 L548.07 2920.9 L548.2 2922.05 L548.33 2923.19 L548.45 2924.33 L548.58 2925.47 L548.7 2926.62 L548.82 2927.76 L548.94 2928.9 L549.05 2930.05 L549.17 2931.19 L549.28 2932.33 L549.4 2933.47 L549.51 2934.62 L549.62 2935.76 L549.72 2936.9 L549.83 2938.04 L549.93 2939.19 L550.04 2940.33 L550.14 2941.47 L550.24 2942.61 L550.34 2943.76 L550.43 2944.9 L550.53 2946.04 L550.62 2947.18 L550.71 2948.33 L550.8 2949.47 L550.89 2950.61 L550.98 2951.76 L551.06 2952.9 L551.15 2954.04 L551.23 2955.18 L551.31 2956.33 L551.39 2957.47 L551.47 2958.61 L551.55 2959.75 L551.62 2960.9 L551.69 2962.04 L551.77 2963.18 L551.84 2964.32 L551.9 2965.47 L551.97 2966.61 L552.04 2967.75 L552.1 2968.89 L552.16 2970.04 L552.22 2971.18 L552.28 2972.32 L552.34 2973.47 L552.39 2974.61 L552.45 2975.75 L552.5 2976.89 L552.55 2978.04 L552.6 2979.18 L552.65 2980.32 L552.7 2981.46 L552.74 2982.61 L552.78 2983.75 L552.83 2984.89 L552.87 2986.03 L552.9 2987.18 L552.94 2988.32 L552.98 2989.46 L553.01 2990.6 L553.04 2991.75 L553.07 2992.89 L553.1 2994.03 L553.13 2995.18 L553.16 2996.32 L553.18 2997.46 L553.2 2998.6 L553.23 2999.75 L553.24 3000.89 L553.26 3002.03 L553.28 3003.17 L553.29 3004.32 L553.31 3005.46 L553.32 3006.6 L553.33 3007.74 L553.34 3008.89 L553.35 3010.03 L553.35 3011.17 L553.36 3012.31 L553.36 3013.46 L553.36 3014.6" fill="none" stroke="#0072BD" stroke-width="7.2" stroke-linejoin="round" stroke-dasharray="30.9 30.83"/><path d="M709.33 1693.15 L711.99 1694.79 L714.66 1696.43 L717.34 1698.07 L720.02 1699.71 L722.7 1701.35 L725.39 1702.99 L728.09 1704.63 L730.79 1706.27 L733.49 1707.91 L736.2 1709.55 L738.92 1711.19 L741.64 1712.83 L744.36 1714.47 L747.09 1716.1 L749.83 1717.74 L752.57 1719.38 L755.32 1721.02 L758.07 1722.66 L760.82 1724.3 L763.58 1725.94 L766.35 1727.58 L769.12 1729.22 L771.89 1730.86 L774.67 1732.5 L777.46 1734.14 L780.25 1735.78 L783.05 1737.42 L785.85 1739.06 L788.65 1740.7 L791.46 1742.34 L794.28 1743.98 L797.09 1745.62 L799.92 1747.26 L802.75 1748.9 L805.58 1750.54 L808.42 1752.18 L811.26 1753.82 L814.11 1755.46 L816.96 1757.1 L819.82 1758.74 L822.68 1760.38 L825.55 1762.02 L828.42 1763.66 L831.3 1765.3 L834.18 1766.94 L837.07 1768.58 L839.96 1770.22 L842.85 1771.86 L845.75 1773.5 L848.65 1775.13 L851.56 1776.77 L854.47 1778.41 L857.39 1780.05 L860.31 1781.69 L863.24 1783.33 L866.17 1784.97 L869.1 1786.61 L872.04 1788.25 L874.99 1789.89 L877.94 1791.53 L880.89 1793.17 L883.85 1794.81 L886.81 1796.45 L889.77 1798.09 L892.74 1799.73 L895.72 1801.37 L898.69 1803.01 L901.68 1804.65 L904.66 1806.29 L907.65 1807.93 L910.65 1809.57 L913.65 1811.21 L916.65 1812.85 L919.66 1814.49 L922.67 1816.13 L925.69 1817.77 L928.71 1819.41 L931.73 1821.05 L934.76 1822.69 L937.79 1824.33 L940.83 1825.97 L943.87 1827.61 L946.91 1829.25 L949.96 1830.89 L953.01 1832.53 L956.06 1834.16 L959.12 1835.8 L962.19 1837.44 L965.25 1839.08 L968.32 1840.72 L971.4 1842.36 L974.48 1844 L977.56 1845.64 L980.64 1847.28 L983.73 1848.92 L986.82 1850.56 L989.92 1852.2 L993.02 1853.84 L996.12 1855.48 L999.23 1857.12 L1002.34 1858.76 L1005.46 1860.4 L1008.57 1862.04 L1011.69 1863.68 L1014.82 1865.32 L1017.95 1866.96 L1021.08 1868.6 L1024.21 1870.24 L1027.35 1871.88 L1030.49 1873.52 L1033.64 1875.16 L1036.79 1876.8 L1039.94 1878.44 L1043.09 1880.08 L1046.25 1881.72 L1049.41 1883.36 L1052.58 1885 L1055.74 1886.64 L1058.91 1888.28 L1062.09 1889.92 L1065.26 1891.56 L1068.44 1893.19 L1071.63 1894.83 L1074.81 1896.47 L1078 1898.11 L1081.19 1899.75 L1084.39 1901.39 L1087.59 1903.03 L1090.79 1904.67 L1093.99 1906.31 L1097.2 1907.95 L1100.4 1909.59 L1103.62 1911.23 L1106.83 1912.87 L1110.05 1914.51 L1113.27 1916.15 L1116.49 1917.79 L1119.72 1919.43 L1122.94 1921.07 L1126.17 1922.71 L1129.41 1924.35 L1132.64 1925.99 L1135.88 1927.63 L1139.12 1929.27 L1142.36 1930.91 L1145.61 1932.55 L1148.86 1934.19 L1152.11 1935.83 L1155.36 1937.47 L1158.62 1939.11 L1161.87 1940.75 L1165.13 1942.39 L1168.39 1944.03 L1171.66 1945.67 L1174.93 1947.31 L1178.19 1948.95 L1181.47 1950.59 L1184.74 1952.22 L1188.01 1953.86 L1191.29 1955.5 L1194.57 1957.14 L1197.85 1958.78 L1201.13 1960.42 L1204.42 1962.06 L1207.71 1963.7 L1211 1965.34 L1214.29 1966.98 L1217.58 1968.62 L1220.87 1970.26 L1224.17 1971.9 L1227.47 1973.54 L1230.77 1975.18 L1234.07 1976.82 L1237.37 1978.46 L1240.68 1980.1 L1243.99 1981.74 L1247.29 1983.38 L1250.6 1985.02 L1253.92 1986.66 L1257.23 1988.3 L1260.54 1989.94 L1263.86 1991.58 L1267.18 1993.22 L1270.5 1994.86 L1273.82 1996.5 L1277.14 1998.14 L1280.46 1999.78 L1283.79 2001.42 L1287.11 2003.06 L1290.44 2004.7 L1293.77 2006.34 L1297.1 2007.98 L1300.43 2009.62 L1303.76 2011.25 L1307.09 2012.89 L1310.43 2014.53 L1313.76 2016.17 L1317.1 2017.81 L1320.43 2019.45 L1323.77 2021.09 L1327.11 2022.73 L1330.45 2024.37 L1333.79 2026.01 L1337.13 2027.65 L1340.48 2029.29 L1343.82 2030.93 L1347.16 2032.57 L1350.51 2034.21 L1353.86 2035.85 L1357.2 2037.49 L1360.55 2039.13 L1363.9 2040.77 L1367.25 2042.41 L1370.59 2044.05 L1373.94 2045.69 L1377.29 2047.33 L1380.64 2048.97 L1384 2050.61 L1387.35 2052.25 L1390.7 2053.89 L1394.05 2055.53 L1397.4 2057.17 L1400.76 2058.81 L1404.11 2060.45 L1407.46 2062.09 L1410.82 2063.73 L1414.17 2065.37 L1417.53 2067.01 L1420.88 2068.65 L1424.24 2070.28 L1427.59 2071.92 L1430.95 2073.56 L1434.3 2075.2 L1437.66 2076.84 L1441.01 2078.48 L1444.37 2080.12 L1447.72 2081.76 L1451.08 2083.4 L1454.43 2085.04 L1457.78 2086.68 L1461.14 2088.32 L1464.49 2089.96 L1467.85 2091.6 L1471.2 2093.24 L1474.55 2094.88 L1477.91 2096.52 L1481.26 2098.16 L1484.61 2099.8 L1487.96 2101.44 L1491.32 2103.08 L1494.67 2104.72 L1498.02 2106.36 L1501.37 2108 L1504.72 2109.64 L1508.07 2111.28 L1511.42 2112.92 L1514.76 2114.56 L1518.11 2116.2 L1521.46 2117.84 L1524.8 2119.48 L1528.15 2121.12 L1531.49 2122.76 L1534.84 2124.4 L1538.18 2126.04 L1541.52 2127.68 L1544.86 2129.31 L1548.2 2130.95 L1551.54 2132.59 L1554.88 2134.23 L1558.22 2135.87 L1561.55 2137.51 L1564.89 2139.15 L1568.22 2140.79 L1571.56 2142.43 L1574.89 2144.07 L1578.22 2145.71 L1581.55 2147.35 L1584.88 2148.99 L1588.21 2150.63 L1591.53 2152.27 L1594.86 2153.91 L1598.18 2155.55 L1601.5 2157.19 L1604.82 2158.83 L1608.14 2160.47 L1611.46 2162.11 L1614.78 2163.75 L1618.09 2165.39 L1621.4 2167.03 L1624.72 2168.67 L1628.03 2170.31 L1631.34 2171.95 L1634.64 2173.59 L1637.95 2175.23 L1641.25 2176.87 L1644.55 2178.51 L1647.85 2180.15 L1651.15 2181.79 L1654.45 2183.43 L1657.75 2185.07 L1661.04 2186.7 L1664.33 2188.34 L1667.62 2189.98 L1670.91 2191.62 L1674.19 2193.26 L1677.48 2194.9 L1680.76 2196.54 L1684.04 2198.18 L1687.32 2199.82 L1690.59 2201.46 L1693.87 2203.1 L1697.14 2204.74 L1700.41 2206.38 L1703.67 2208.02 L1706.94 2209.66 L1710.2 2211.3 L1713.46 2212.94 L1716.72 2214.58 L1719.98 2216.22 L1723.23 2217.86 L1726.48 2219.5 L1729.73 2221.14 L1732.98 2222.78 L1736.22 2224.42 L1739.46 2226.06 L1742.7 2227.7 L1745.94 2229.34 L1749.17 2230.98 L1752.4 2232.62 L1755.63 2234.26 L1758.86 2235.9 L1762.08 2237.54 L1765.3 2239.18 L1768.52 2240.82 L1771.74 2242.46 L1774.95 2244.1 L1778.16 2245.73 L1781.36 2247.37 L1784.57 2249.01 L1787.77 2250.65 L1790.97 2252.29 L1794.16 2253.93 L1797.36 2255.57 L1800.55 2257.21 L1803.73 2258.85 L1806.92 2260.49 L1810.1 2262.13 L1813.28 2263.77 L1816.45 2265.41 L1819.62 2267.05 L1822.79 2268.69 L1825.96 2270.33 L1829.12 2271.97 L1832.28 2273.61 L1835.43 2275.25 L1838.59 2276.89 L1841.73 2278.53 L1844.88 2280.17 L1848.02 2281.81 L1851.16 2283.45 L1854.3 2285.09 L1857.43 2286.73 L1860.56 2288.37 L1863.68 2290.01 L1866.81 2291.65 L1869.93 2293.29 L1873.04 2294.93 L1876.15 2296.57 L1879.26 2298.21 L1882.36 2299.85 L1885.46 2301.49 L1888.56 2303.13 L1891.66 2304.76 L1894.75 2306.4 L1897.83 2308.04 L1900.91 2309.68 L1903.99 2311.32 L1907.07 2312.96 L1910.14 2314.6 L1913.2 2316.24 L1916.27 2317.88 L1919.33 2319.52 L1922.38 2321.16 L1925.43 2322.8 L1928.48 2324.44 L1931.53 2326.08 L1934.57 2327.72 L1937.6 2329.36 L1940.63 2331 L1943.66 2332.64 L1946.68 2334.28 L1949.7 2335.92 L1952.72 2337.56 L1955.73 2339.2 L1958.74 2340.84 L1961.74 2342.48 L1964.74 2344.12 L1967.73 2345.76 L1970.72 2347.4" fill="none" stroke="#EDB120" stroke-width="7.2" stroke-linejoin="round"/><path d="M842.11 1693.15 L844.49 1694.48 L846.87 1695.82 L849.25 1697.15 L851.64 1698.48 L854.03 1699.82 L856.43 1701.15 L858.83 1702.48 L861.23 1703.81 L863.64 1705.15 L866.05 1706.48 L868.46 1707.81 L870.88 1709.15 L873.3 1710.48 L875.73 1711.81 L878.16 1713.15 L880.59 1714.48 L883.03 1715.81 L885.47 1717.15 L887.91 1718.48 L890.36 1719.81 L892.81 1721.15 L895.27 1722.48 L897.72 1723.81 L900.19 1725.15 L902.65 1726.48 L905.12 1727.81 L907.59 1729.15 L910.07 1730.48 L912.55 1731.81 L915.03 1733.15 L917.52 1734.48 L920.01 1735.81 L922.51 1737.15 L925 1738.48 L927.5 1739.81 L930.01 1741.15 L932.52 1742.48 L935.03 1743.81 L937.54 1745.15 L940.06 1746.48 L942.59 1747.81 L945.11 1749.15 L947.64 1750.48 L950.17 1751.81 L952.71 1753.15 L955.25 1754.48 L957.79 1755.81 L960.34 1757.15 L962.89 1758.48 L965.44 1759.81 L968 1761.14 L970.56 1762.48 L973.12 1763.81 L975.69 1765.14 L978.26 1766.48 L980.83 1767.81 L983.41 1769.14 L985.99 1770.48 L988.57 1771.81 L991.16 1773.14 L993.75 1774.48 L996.34 1775.81 L998.94 1777.14 L1001.54 1778.48 L1004.14 1779.81 L1006.75 1781.14 L1009.36 1782.48 L1011.97 1783.81 L1014.59 1785.14 L1017.21 1786.48 L1019.83 1787.81 L1022.46 1789.14 L1025.09 1790.48 L1027.72 1791.81 L1030.35 1793.14 L1032.99 1794.48 L1035.63 1795.81 L1038.28 1797.14 L1040.93 1798.48 L1043.58 1799.81 L1046.23 1801.14 L1048.89 1802.48 L1051.55 1803.81 L1054.21 1805.14 L1056.88 1806.48 L1059.55 1807.81 L1062.22 1809.14 L1064.89 1810.48 L1067.57 1811.81 L1070.25 1813.14 L1072.94 1814.48 L1075.63 1815.81 L1078.32 1817.14 L1081.01 1818.47 L1083.71 1819.81 L1086.4 1821.14 L1089.11 1822.47 L1091.81 1823.81 L1094.52 1825.14 L1097.23 1826.47 L1099.94 1827.81 L1102.66 1829.14 L1105.38 1830.47 L1108.1 1831.81 L1110.83 1833.14 L1113.55 1834.47 L1116.28 1835.81 L1119.02 1837.14 L1121.75 1838.47 L1124.49 1839.81 L1127.23 1841.14 L1129.98 1842.47 L1132.72 1843.81 L1135.47 1845.14 L1138.23 1846.47 L1140.98 1847.81 L1143.74 1849.14 L1146.5 1850.47 L1149.26 1851.81 L1152.03 1853.14 L1154.79 1854.47 L1157.57 1855.81 L1160.34 1857.14 L1163.11 1858.47 L1165.89 1859.81 L1168.67 1861.14 L1171.46 1862.47 L1174.24 1863.81 L1177.03 1865.14 L1179.82 1866.47 L1182.62 1867.81 L1185.41 1869.14 L1188.21 1870.47 L1191.01 1871.8 L1193.81 1873.14 L1196.62 1874.47 L1199.43 1875.8 L1202.24 1877.14 L1205.05 1878.47 L1207.87 1879.8 L1210.68 1881.14 L1213.5 1882.47 L1216.33 1883.8 L1219.15 1885.14 L1221.98 1886.47 L1224.81 1887.8 L1227.64 1889.14 L1230.47 1890.47 L1233.31 1891.8 L1236.14 1893.14 L1238.98 1894.47 L1241.83 1895.8 L1244.67 1897.14 L1247.52 1898.47 L1250.37 1899.8 L1253.22 1901.14 L1256.07 1902.47 L1258.93 1903.8 L1261.78 1905.14 L1264.64 1906.47 L1267.5 1907.8 L1270.37 1909.14 L1273.23 1910.47 L1276.1 1911.8 L1278.97 1913.14 L1281.84 1914.47 L1284.71 1915.8 L1287.59 1917.14 L1290.47 1918.47 L1293.34 1919.8 L1296.23 1921.14 L1299.11 1922.47 L1301.99 1923.8 L1304.88 1925.14 L1307.77 1926.47 L1310.66 1927.8 L1313.55 1929.13 L1316.44 1930.47 L1319.34 1931.8 L1322.24 1933.13 L1325.14 1934.47 L1328.04 1935.8 L1330.94 1937.13 L1333.84 1938.47 L1336.75 1939.8 L1339.66 1941.13 L1342.57 1942.47 L1345.48 1943.8 L1348.39 1945.13 L1351.31 1946.47 L1354.22 1947.8 L1357.14 1949.13 L1360.06 1950.47 L1362.98 1951.8 L1365.9 1953.13 L1368.82 1954.47 L1371.75 1955.8 L1374.68 1957.13 L1377.6 1958.47 L1380.53 1959.8 L1383.47 1961.13 L1386.4 1962.47 L1389.33 1963.8 L1392.27 1965.13 L1395.2 1966.47 L1398.14 1967.8 L1401.08 1969.13 L1404.02 1970.47 L1406.96 1971.8 L1409.91 1973.13 L1412.85 1974.47 L1415.8 1975.8 L1418.74 1977.13 L1421.69 1978.47 L1424.64 1979.8 L1427.59 1981.13 L1430.54 1982.47 L1433.5 1983.8 L1436.45 1985.13 L1439.41 1986.46 L1442.36 1987.8 L1445.32 1989.13 L1448.28 1990.46 L1451.24 1991.8 L1454.2 1993.13 L1457.16 1994.46 L1460.12 1995.8 L1463.09 1997.13 L1466.05 1998.46 L1469.02 1999.8 L1471.99 2001.13 L1474.95 2002.46 L1477.92 2003.8 L1480.89 2005.13 L1483.86 2006.46 L1486.83 2007.8 L1489.81 2009.13 L1492.78 2010.46 L1495.75 2011.8 L1498.73 2013.13 L1501.7 2014.46 L1504.68 2015.8 L1507.66 2017.13 L1510.63 2018.46 L1513.61 2019.8 L1516.59 2021.13 L1519.57 2022.46 L1522.55 2023.8 L1525.53 2025.13 L1528.52 2026.46 L1531.5 2027.8 L1534.48 2029.13 L1537.46 2030.46 L1540.45 2031.8 L1543.43 2033.13 L1546.42 2034.46 L1549.4 2035.8 L1552.39 2037.13 L1555.38 2038.46 L1558.37 2039.8 L1561.35 2041.13 L1564.34 2042.46 L1567.33 2043.79 L1570.32 2045.13 L1573.31 2046.46 L1576.3 2047.79 L1579.29 2049.13 L1582.28 2050.46 L1585.27 2051.79 L1588.26 2053.13 L1591.25 2054.46 L1594.25 2055.79 L1597.24 2057.13 L1600.23 2058.46 L1603.22 2059.79 L1606.22 2061.13 L1609.21 2062.46 L1612.2 2063.79 L1615.2 2065.13 L1618.19 2066.46 L1621.18 2067.79 L1624.18 2069.13 L1627.17 2070.46 L1630.16 2071.79 L1633.16 2073.13 L1636.15 2074.46 L1639.15 2075.79 L1642.14 2077.13 L1645.14 2078.46 L1648.13 2079.79 L1651.12 2081.13 L1654.12 2082.46 L1657.11 2083.79 L1660.11 2085.13 L1663.1 2086.46 L1666.09 2087.79 L1669.09 2089.13 L1672.08 2090.46 L1675.07 2091.79 L1678.07 2093.13 L1681.06 2094.46 L1684.05 2095.79 L1687.04 2097.12 L1690.04 2098.46 L1693.03 2099.79 L1696.02 2101.12 L1699.01 2102.46 L1702 2103.79 L1704.99 2105.12 L1707.98 2106.46 L1710.97 2107.79 L1713.96 2109.12 L1716.95 2110.46 L1719.94 2111.79 L1722.93 2113.12 L1725.91 2114.46 L1728.9 2115.79 L1731.89 2117.12 L1734.88 2118.46 L1737.86 2119.79 L1740.85 2121.12 L1743.83 2122.46 L1746.82 2123.79 L1749.8 2125.12 L1752.78 2126.46 L1755.76 2127.79 L1758.75 2129.12 L1761.73 2130.46 L1764.71 2131.79 L1767.69 2133.12 L1770.67 2134.46 L1773.64 2135.79 L1776.62 2137.12 L1779.6 2138.46 L1782.58 2139.79 L1785.55 2141.12 L1788.53 2142.46 L1791.5 2143.79 L1794.47 2145.12 L1797.44 2146.46 L1800.42 2147.79 L1803.39 2149.12 L1806.35 2150.46 L1809.32 2151.79 L1812.29 2153.12 L1815.26 2154.45 L1818.22 2155.79 L1821.19 2157.12 L1824.15 2158.45 L1827.11 2159.79 L1830.08 2161.12 L1833.04 2162.45 L1836 2163.79 L1838.95 2165.12 L1841.91 2166.45 L1844.87 2167.79 L1847.82 2169.12 L1850.78 2170.45 L1853.73 2171.79 L1856.68 2173.12 L1859.63 2174.45 L1862.58 2175.79 L1865.53 2177.12 L1868.48 2178.45 L1871.42 2179.79 L1874.37 2181.12 L1877.31 2182.45 L1880.25 2183.79 L1883.19 2185.12 L1886.13 2186.45 L1889.07 2187.79 L1892.01 2189.12 L1894.94 2190.45 L1897.88 2191.79 L1900.81 2193.12 L1903.74 2194.45 L1906.67 2195.79 L1909.6 2197.12 L1912.52 2198.45 L1915.45 2199.79 L1918.37 2201.12 L1921.29 2202.45 L1924.21 2203.79 L1927.13 2205.12 L1930.05 2206.45 L1932.97 2207.79 L1935.88 2209.12 L1938.79 2210.45 L1941.7 2211.78 L1944.61 2213.12 L1947.52 2214.45 L1950.43 2215.78 L1953.33 2217.12 L1956.23 2218.45 L1959.14 2219.78 L1962.03 2221.12 L1964.93 2222.45 L1967.83 2223.78 L1970.72 2225.12" fill="none" stroke="#EDB120" stroke-width="7.2" stroke-linejoin="round" stroke-dasharray="30.9 30.83"/><path d="M296.34 2010.53 L297.12 2009.73 L297.91 2008.94 L298.7 2008.14 L299.49 2007.35 L300.28 2006.55 L301.07 2005.76 L301.86 2004.96 L302.65 2004.17 L303.44 2003.37 L304.24 2002.57 L305.04 2001.78 L305.83 2000.98 L306.63 2000.19 L307.43 1999.39 L308.23 1998.6 L309.04 1997.8 L309.84 1997.01 L310.64 1996.21 L311.45 1995.42 L312.26 1994.62 L313.06 1993.83 L313.87 1993.03 L314.68 1992.23 L315.5 1991.44 L316.31 1990.64 L317.12 1989.85 L317.94 1989.05 L318.76 1988.26 L319.57 1987.46 L320.39 1986.67 L321.21 1985.87 L322.03 1985.08 L322.86 1984.28 L323.68 1983.48 L324.51 1982.69 L325.33 1981.89 L326.16 1981.1 L326.99 1980.3 L327.82 1979.51 L328.65 1978.71 L329.48 1977.92 L330.31 1977.12 L331.15 1976.33 L331.98 1975.53 L332.82 1974.73 L333.66 1973.94 L334.5 1973.14 L335.34 1972.35 L336.18 1971.55 L337.02 1970.76 L337.87 1969.96 L338.71 1969.17 L339.56 1968.37 L340.41 1967.58 L341.26 1966.78 L342.11 1965.98 L342.96 1965.19 L343.81 1964.39 L344.67 1963.6 L345.52 1962.8 L346.38 1962.01 L347.24 1961.21 L348.1 1960.42 L348.96 1959.62 L349.82 1958.83 L350.68 1958.03 L351.54 1957.23 L352.41 1956.44 L353.28 1955.64 L354.14 1954.85 L355.01 1954.05 L355.88 1953.26 L356.75 1952.46 L357.63 1951.67 L358.5 1950.87 L359.37 1950.08 L360.25 1949.28 L361.13 1948.49 L362.01 1947.69 L362.89 1946.89 L363.77 1946.1 L364.65 1945.3 L365.53 1944.51 L366.42 1943.71 L367.31 1942.92 L368.19 1942.12 L369.08 1941.33 L369.97 1940.53 L370.86 1939.74 L371.75 1938.94 L372.65 1938.14 L373.54 1937.35 L374.44 1936.55 L375.34 1935.76 L376.24 1934.96 L377.14 1934.17 L378.04 1933.37 L378.94 1932.58 L379.84 1931.78 L380.75 1930.99 L381.65 1930.19 L382.56 1929.39 L383.47 1928.6 L384.38 1927.8 L385.29 1927.01 L386.2 1926.21 L387.12 1925.42 L388.03 1924.62 L388.95 1923.83 L389.87 1923.03 L390.79 1922.24 L391.71 1921.44 L392.63 1920.64 L393.55 1919.85 L394.47 1919.05 L395.4 1918.26 L396.32 1917.46 L397.25 1916.67 L398.18 1915.87 L399.11 1915.08 L400.04 1914.28 L400.98 1913.49 L401.91 1912.69 L402.85 1911.89 L403.78 1911.1 L404.72 1910.3 L405.66 1909.51 L406.6 1908.71 L407.54 1907.92 L408.48 1907.12 L409.43 1906.33 L410.37 1905.53 L411.32 1904.74 L412.27 1903.94 L413.22 1903.14 L414.17 1902.35 L415.12 1901.55 L416.07 1900.76 L417.03 1899.96 L417.98 1899.17 L418.94 1898.37 L419.9 1897.58 L420.86 1896.78 L421.82 1895.99 L422.78 1895.19 L423.75 1894.4 L424.71 1893.6 L425.68 1892.8 L426.64 1892.01 L427.61 1891.21 L428.58 1890.42 L429.55 1889.62 L430.53 1888.83 L431.5 1888.03 L432.47 1887.24 L433.45 1886.44 L434.43 1885.65 L435.41 1884.85 L436.39 1884.05 L437.37 1883.26 L438.35 1882.46 L439.34 1881.67 L440.32 1880.87 L441.31 1880.08 L442.3 1879.28 L443.29 1878.49 L444.28 1877.69 L445.27 1876.9 L446.26 1876.1 L447.26 1875.3 L448.25 1874.51 L449.25 1873.71 L450.25 1872.92 L451.25 1872.12 L452.25 1871.33 L453.25 1870.53 L454.25 1869.74 L455.26 1868.94 L456.27 1868.15 L457.27 1867.35 L458.28 1866.55 L459.29 1865.76 L460.3 1864.96 L461.32 1864.17 L462.33 1863.37 L463.35 1862.58 L464.36 1861.78 L465.38 1860.99 L466.4 1860.19 L467.42 1859.4 L468.44 1858.6 L469.46 1857.8 L470.49 1857.01 L471.51 1856.21 L472.54 1855.42 L473.57 1854.62 L474.6 1853.83 L475.63 1853.03 L476.66 1852.24 L477.7 1851.44 L478.73 1850.65 L479.77 1849.85 L480.81 1849.06 L481.84 1848.26 L482.88 1847.46 L483.93 1846.67 L484.97 1845.87 L486.01 1845.08 L487.06 1844.28 L488.1 1843.49 L489.15 1842.69 L490.2 1841.9 L491.25 1841.1 L492.3 1840.31 L493.36 1839.51 L494.41 1838.71 L495.47 1837.92 L496.53 1837.12 L497.58 1836.33 L498.64 1835.53 L499.71 1834.74 L500.77 1833.94 L501.83 1833.15 L502.9 1832.35 L503.96 1831.56 L505.03 1830.76 L506.1 1829.96 L507.17 1829.17 L508.24 1828.37 L509.31 1827.58 L510.39 1826.78 L511.46 1825.99 L512.54 1825.19 L513.62 1824.4 L514.7 1823.6 L515.78 1822.81 L516.86 1822.01 L517.95 1821.21 L519.03 1820.42 L520.12 1819.62 L521.2 1818.83 L522.29 1818.03 L523.38 1817.24 L524.47 1816.44 L525.57 1815.65 L526.66 1814.85 L527.76 1814.06 L528.85 1813.26 L529.95 1812.46 L531.05 1811.67 L532.15 1810.87 L533.25 1810.08 L534.35 1809.28 L535.46 1808.49 L536.56 1807.69 L537.67 1806.9 L538.78 1806.1 L539.89 1805.31 L541 1804.51 L542.11 1803.72 L543.23 1802.92 L544.34 1802.12 L545.46 1801.33 L546.58 1800.53 L547.69 1799.74 L548.82 1798.94 L549.94 1798.15 L551.06 1797.35 L552.18 1796.56 L553.31 1795.76 L554.44 1794.97 L555.56 1794.17 L556.69 1793.37 L557.82 1792.58 L558.96 1791.78 L560.09 1790.99 L561.22 1790.19 L562.36 1789.4 L563.5 1788.6 L564.64 1787.81 L565.78 1787.01 L566.92 1786.22 L568.06 1785.42 L569.2 1784.62 L570.35 1783.83 L571.49 1783.03 L572.64 1782.24 L573.79 1781.44 L574.94 1780.65 L576.09 1779.85 L577.25 1779.06 L578.4 1778.26 L579.56 1777.47 L580.71 1776.67 L581.87 1775.87 L583.03 1775.08 L584.19 1774.28 L585.35 1773.49 L586.52 1772.69 L587.68 1771.9 L588.85 1771.1 L590.01 1770.31 L591.18 1769.51 L592.35 1768.72 L593.52 1767.92 L594.7 1767.12 L595.87 1766.33 L597.05 1765.53 L598.22 1764.74 L599.4 1763.94 L600.58 1763.15 L601.76 1762.35 L602.94 1761.56 L604.12 1760.76 L605.31 1759.97 L606.49 1759.17 L607.68 1758.37 L608.87 1757.58 L610.06 1756.78 L611.25 1755.99 L612.44 1755.19 L613.63 1754.4 L614.83 1753.6 L616.02 1752.81 L617.22 1752.01 L618.42 1751.22 L619.62 1750.42 L620.82 1749.63 L622.02 1748.83 L623.22 1748.03 L624.43 1747.24 L625.64 1746.44 L626.84 1745.65 L628.05 1744.85 L629.26 1744.06 L630.47 1743.26 L631.68 1742.47 L632.9 1741.67 L634.11 1740.88 L635.33 1740.08 L636.55 1739.28 L637.77 1738.49 L638.99 1737.69 L640.21 1736.9 L641.43 1736.1 L642.65 1735.31 L643.88 1734.51 L645.11 1733.72 L646.33 1732.92 L647.56 1732.13 L648.79 1731.33 L650.03 1730.53 L651.26 1729.74 L652.49 1728.94 L653.73 1728.15 L654.97 1727.35 L656.2 1726.56 L657.44 1725.76 L658.68 1724.97 L659.92 1724.17 L661.17 1723.38 L662.41 1722.58 L663.66 1721.78 L664.9 1720.99 L666.15 1720.19 L667.4 1719.4 L668.65 1718.6 L669.9 1717.81 L671.16 1717.01 L672.41 1716.22 L673.67 1715.42 L674.92 1714.63 L676.18 1713.83 L677.44 1713.03 L678.7 1712.24 L679.96 1711.44 L681.23 1710.65 L682.49 1709.85 L683.76 1709.06 L685.02 1708.26 L686.29 1707.47 L687.56 1706.67 L688.83 1705.88 L690.1 1705.08 L691.38 1704.29 L692.65 1703.49 L693.93 1702.69 L695.2 1701.9 L696.48 1701.1 L697.76 1700.31 L699.04 1699.51 L700.32 1698.72 L701.61 1697.92 L702.89 1697.13 L704.18 1696.33 L705.46 1695.54 L706.75 1694.74 L708.04 1693.94 L709.33 1693.15" fill="none" stroke="#7E2F8E" stroke-width="7.2" stroke-linejoin="round"/><path d="M296.34 2103.87 L297.27 2102.84 L298.2 2101.81 L299.14 2100.78 L300.07 2099.75 L301.01 2098.72 L301.95 2097.69 L302.9 2096.66 L303.84 2095.63 L304.79 2094.6 L305.73 2093.57 L306.68 2092.54 L307.64 2091.51 L308.59 2090.48 L309.55 2089.46 L310.5 2088.43 L311.46 2087.4 L312.42 2086.37 L313.39 2085.34 L314.35 2084.31 L315.32 2083.28 L316.29 2082.25 L317.26 2081.22 L318.24 2080.19 L319.21 2079.16 L320.19 2078.13 L321.17 2077.1 L322.15 2076.07 L323.13 2075.04 L324.12 2074.01 L325.1 2072.99 L326.09 2071.96 L327.09 2070.93 L328.08 2069.9 L329.07 2068.87 L330.07 2067.84 L331.07 2066.81 L332.07 2065.78 L333.07 2064.75 L334.08 2063.72 L335.09 2062.69 L336.1 2061.66 L337.11 2060.63 L338.12 2059.6 L339.14 2058.57 L340.15 2057.55 L341.17 2056.52 L342.19 2055.49 L343.22 2054.46 L344.24 2053.43 L345.27 2052.4 L346.3 2051.37 L347.33 2050.34 L348.36 2049.31 L349.4 2048.28 L350.44 2047.25 L351.48 2046.22 L352.52 2045.19 L353.56 2044.16 L354.61 2043.13 L355.66 2042.1 L356.71 2041.08 L357.76 2040.05 L358.81 2039.02 L359.87 2037.99 L360.93 2036.96 L361.99 2035.93 L363.05 2034.9 L364.12 2033.87 L365.18 2032.84 L366.25 2031.81 L367.32 2030.78 L368.4 2029.75 L369.47 2028.72 L370.55 2027.69 L371.63 2026.66 L372.71 2025.63 L373.79 2024.61 L374.88 2023.58 L375.97 2022.55 L377.06 2021.52 L378.15 2020.49 L379.24 2019.46 L380.34 2018.43 L381.44 2017.4 L382.54 2016.37 L383.64 2015.34 L384.74 2014.31 L385.85 2013.28 L386.96 2012.25 L388.07 2011.22 L389.18 2010.19 L390.3 2009.16 L391.42 2008.14 L392.54 2007.11 L393.66 2006.08 L394.78 2005.05 L395.91 2004.02 L397.04 2002.99 L398.17 2001.96 L399.3 2000.93 L400.44 1999.9 L401.57 1998.87 L402.71 1997.84 L403.85 1996.81 L405 1995.78 L406.14 1994.75 L407.29 1993.72 L408.44 1992.69 L409.59 1991.67 L410.75 1990.64 L411.91 1989.61 L413.06 1988.58 L414.23 1987.55 L415.39 1986.52 L416.55 1985.49 L417.72 1984.46 L418.89 1983.43 L420.06 1982.4 L421.24 1981.37 L422.41 1980.34 L423.59 1979.31 L424.77 1978.28 L425.96 1977.25 L427.14 1976.23 L428.33 1975.2 L429.52 1974.17 L430.71 1973.14 L431.91 1972.11 L433.1 1971.08 L434.3 1970.05 L435.5 1969.02 L436.71 1967.99 L437.91 1966.96 L439.12 1965.93 L440.33 1964.9 L441.54 1963.87 L442.76 1962.84 L443.97 1961.81 L445.19 1960.78 L446.41 1959.76 L447.64 1958.73 L448.86 1957.7 L450.09 1956.67 L451.32 1955.64 L452.55 1954.61 L453.79 1953.58 L455.03 1952.55 L456.26 1951.52 L457.51 1950.49 L458.75 1949.46 L460 1948.43 L461.24 1947.4 L462.5 1946.37 L463.75 1945.34 L465 1944.31 L466.26 1943.29 L467.52 1942.26 L468.78 1941.23 L470.05 1940.2 L471.31 1939.17 L472.58 1938.14 L473.86 1937.11 L475.13 1936.08 L476.4 1935.05 L477.68 1934.02 L478.96 1932.99 L480.25 1931.96 L481.53 1930.93 L482.82 1929.9 L484.11 1928.87 L485.4 1927.84 L486.7 1926.82 L487.99 1925.79 L489.29 1924.76 L490.59 1923.73 L491.9 1922.7 L493.2 1921.67 L494.51 1920.64 L495.82 1919.61 L497.14 1918.58 L498.45 1917.55 L499.77 1916.52 L501.09 1915.49 L502.41 1914.46 L503.74 1913.43 L505.06 1912.4 L506.39 1911.37 L507.72 1910.35 L509.06 1909.32 L510.39 1908.29 L511.73 1907.26 L513.07 1906.23 L514.42 1905.2 L515.76 1904.17 L517.11 1903.14 L518.46 1902.11 L519.81 1901.08 L521.17 1900.05 L522.53 1899.02 L523.89 1897.99 L525.25 1896.96 L526.61 1895.93 L527.98 1894.9 L529.35 1893.88 L530.72 1892.85 L532.1 1891.82 L533.47 1890.79 L534.85 1889.76 L536.23 1888.73 L537.62 1887.7 L539 1886.67 L540.39 1885.64 L541.78 1884.61 L543.18 1883.58 L544.57 1882.55 L545.97 1881.52 L547.37 1880.49 L548.77 1879.46 L550.18 1878.44 L551.58 1877.41 L552.99 1876.38 L554.41 1875.35 L555.82 1874.32 L557.24 1873.29 L558.66 1872.26 L560.08 1871.23 L561.5 1870.2 L562.93 1869.17 L564.36 1868.14 L565.79 1867.11 L567.22 1866.08 L568.66 1865.05 L570.1 1864.02 L571.54 1862.99 L572.98 1861.97 L574.43 1860.94 L575.88 1859.91 L577.33 1858.88 L578.78 1857.85 L580.23 1856.82 L581.69 1855.79 L583.15 1854.76 L584.62 1853.73 L586.08 1852.7 L587.55 1851.67 L589.02 1850.64 L590.49 1849.61 L591.96 1848.58 L593.44 1847.55 L594.92 1846.52 L596.4 1845.5 L597.89 1844.47 L599.37 1843.44 L600.86 1842.41 L602.35 1841.38 L603.85 1840.35 L605.34 1839.32 L606.84 1838.29 L608.34 1837.26 L609.85 1836.23 L611.35 1835.2 L612.86 1834.17 L614.37 1833.14 L615.88 1832.11 L617.4 1831.08 L618.92 1830.05 L620.44 1829.03 L621.96 1828 L623.48 1826.97 L625.01 1825.94 L626.54 1824.91 L628.07 1823.88 L629.61 1822.85 L631.15 1821.82 L632.69 1820.79 L634.23 1819.76 L635.77 1818.73 L637.32 1817.7 L638.87 1816.67 L640.42 1815.64 L641.97 1814.61 L643.53 1813.58 L645.09 1812.56 L646.65 1811.53 L648.22 1810.5 L649.78 1809.47 L651.35 1808.44 L652.92 1807.41 L654.49 1806.38 L656.07 1805.35 L657.65 1804.32 L659.23 1803.29 L660.81 1802.26 L662.4 1801.23 L663.99 1800.2 L665.58 1799.17 L667.17 1798.14 L668.76 1797.12 L670.36 1796.09 L671.96 1795.06 L673.56 1794.03 L675.17 1793 L676.78 1791.97 L678.38 1790.94 L680 1789.91 L681.61 1788.88 L683.23 1787.85 L684.85 1786.82 L686.47 1785.79 L688.09 1784.76 L689.72 1783.73 L691.35 1782.7 L692.98 1781.67 L694.61 1780.65 L696.25 1779.62 L697.89 1778.59 L699.53 1777.56 L701.17 1776.53 L702.82 1775.5 L704.46 1774.47 L706.12 1773.44 L707.77 1772.41 L709.42 1771.38 L711.08 1770.35 L712.74 1769.32 L714.4 1768.29 L716.07 1767.26 L717.73 1766.23 L719.4 1765.2 L721.08 1764.18 L722.75 1763.15 L724.43 1762.12 L726.11 1761.09 L727.79 1760.06 L729.47 1759.03 L731.16 1758 L732.85 1756.97 L734.54 1755.94 L736.23 1754.91 L737.93 1753.88 L739.62 1752.85 L741.32 1751.82 L743.03 1750.79 L744.73 1749.76 L746.44 1748.73 L748.15 1747.71 L749.86 1746.68 L751.58 1745.65 L753.29 1744.62 L755.01 1743.59 L756.74 1742.56 L758.46 1741.53 L760.19 1740.5 L761.91 1739.47 L763.65 1738.44 L765.38 1737.41 L767.11 1736.38 L768.85 1735.35 L770.59 1734.32 L772.34 1733.29 L774.08 1732.26 L775.83 1731.24 L777.58 1730.21 L779.33 1729.18 L781.09 1728.15 L782.84 1727.12 L784.6 1726.09 L786.36 1725.06 L788.13 1724.03 L789.89 1723 L791.66 1721.97 L793.43 1720.94 L795.21 1719.91 L796.98 1718.88 L798.76 1717.85 L800.54 1716.82 L802.32 1715.79 L804.11 1714.77 L805.89 1713.74 L807.68 1712.71 L809.47 1711.68 L811.27 1710.65 L813.06 1709.62 L814.86 1708.59 L816.66 1707.56 L818.47 1706.53 L820.27 1705.5 L822.08 1704.47 L823.89 1703.44 L825.7 1702.41 L827.52 1701.38 L829.33 1700.35 L831.15 1699.33 L832.97 1698.3 L834.8 1697.27 L836.62 1696.24 L838.45 1695.21 L840.28 1694.18 L842.11 1693.15" fill="none" stroke="#7E2F8E" stroke-width="7.2" stroke-linejoin="round" stroke-dasharray="30.9 30.83"/><rect x="296.34" y="1693.15" width="1674.38" height="1321.45" fill="none" stroke="#7e7e7e" stroke-width="3.4"/><path d="M296.34 3014.6V2995.6M296.34 1693.15V1712.15M612.26 3014.6V2995.6M612.26 1693.15V1712.15M928.18 3014.6V2995.6M928.18 1693.15V1712.15M1244.1 3014.6V2995.6M1244.1 1693.15V1712.15M1560.02 3014.6V2995.6M1560.02 1693.15V1712.15M1875.94 3014.6V2995.6M1875.94 1693.15V1712.15M296.34 3014.6H315.34M1970.72 3014.6H1951.72M296.34 2867.77H315.34M1970.72 2867.77H1951.72M296.34 2720.94H315.34M1970.72 2720.94H1951.72M296.34 2574.12H315.34M1970.72 2574.12H1951.72M296.34 2427.29H315.34M1970.72 2427.29H1951.72M296.34 2280.46H315.34M1970.72 2280.46H1951.72M296.34 2133.63H315.34M1970.72 2133.63H1951.72M296.34 1986.8H315.34M1970.72 1986.8H1951.72M296.34 1839.98H315.34M1970.72 1839.98H1951.72M296.34 1693.15H315.34M1970.72 1693.15H1951.72" stroke="#7e7e7e" stroke-width="3.4" fill="none"/><text x="270.4" y="3031.5" font-size="54" text-anchor="end" fill="#262626">0</text><text x="275.7" y="2889.27" font-size="54" text-anchor="end" fill="#262626">10</text><text x="275.7" y="2742.44" font-size="54" text-anchor="end" fill="#262626">20</text><text x="275.7" y="2595.62" font-size="54" text-anchor="end" fill="#262626">30</text><text x="275.7" y="2448.79" font-size="54" text-anchor="end" fill="#262626">40</text><text x="275.7" y="2301.96" font-size="54" text-anchor="end" fill="#262626">50</text><text x="275.7" y="2155.13" font-size="54" text-anchor="end" fill="#262626">60</text><text x="275.7" y="2008.3" font-size="54" text-anchor="end" fill="#262626">70</text><text x="275.7" y="1861.48" font-size="54" text-anchor="end" fill="#262626">80</text><text x="275.7" y="1714.65" font-size="54" text-anchor="end" fill="#262626">90</text><text x="294.34" y="3086.3" font-size="54" text-anchor="middle" fill="#262626">300</text><text x="610.26" y="3086.3" font-size="54" text-anchor="middle" fill="#262626">400</text><text x="926.18" y="3086.3" font-size="54" text-anchor="middle" fill="#262626">500</text><text x="1242.1" y="3086.3" font-size="54" text-anchor="middle" fill="#262626">600</text><text x="1558.02" y="3086.3" font-size="54" text-anchor="middle" fill="#262626">700</text><text x="1873.94" y="3086.3" font-size="54" text-anchor="middle" fill="#262626">800</text><text transform="translate(49.9 1744.4) scale(1.0015 1)" font-size="58" fill="#000" xml:space="preserve"><tspan font-family="Liberation Sans, sans-serif" font-weight="bold">(b)</tspan></text><text transform="translate(609.3 1914.8) scale(0.9984 1)" font-size="57" fill="#000" xml:space="preserve"><tspan font-family="Liberation Sans, sans-serif" font-style="italic">m</tspan><tspan font-family="Liberation Sans, sans-serif"> =1</tspan></text><text transform="translate(1528.61 1968.8) scale(0.9867 1)" font-size="57" fill="#000" xml:space="preserve"><tspan font-family="Liberation Sans, sans-serif" font-style="italic">m</tspan><tspan font-family="Liberation Sans, sans-serif"> =−1</tspan></text><text transform="translate(882.81 2378.9) scale(0.9943 1)" font-size="57" fill="#000" xml:space="preserve"><tspan font-family="Liberation Sans, sans-serif" font-style="italic">m</tspan><tspan font-family="Liberation Sans, sans-serif"> =−2</tspan></text><text transform="translate(524.12 2663.5) scale(0.9823 1)" font-size="57" fill="#000" xml:space="preserve"><tspan font-family="Liberation Sans, sans-serif" font-style="italic">m</tspan><tspan font-family="Liberation Sans, sans-serif"> =−3</tspan></text><text transform="translate(769.2 3184.2) scale(1.0335 1)" font-size="57" fill="#000" xml:space="preserve"><tspan font-family="Liberation Sans, sans-serif">Cutoff wavelength (nm)</tspan></text><text transform="translate(139.2 2775.73) rotate(-90) scale(1.0062 1)" font-size="58" fill="#000" xml:space="preserve"><tspan font-family="Liberation Sans, sans-serif">Rotation angle </tspan><tspan font-family="Liberation Serif, serif" font-style="italic">φ</tspan><tspan font-family="Liberation Sans, sans-serif"> (degree)</tspan></text></svg></body></html>
